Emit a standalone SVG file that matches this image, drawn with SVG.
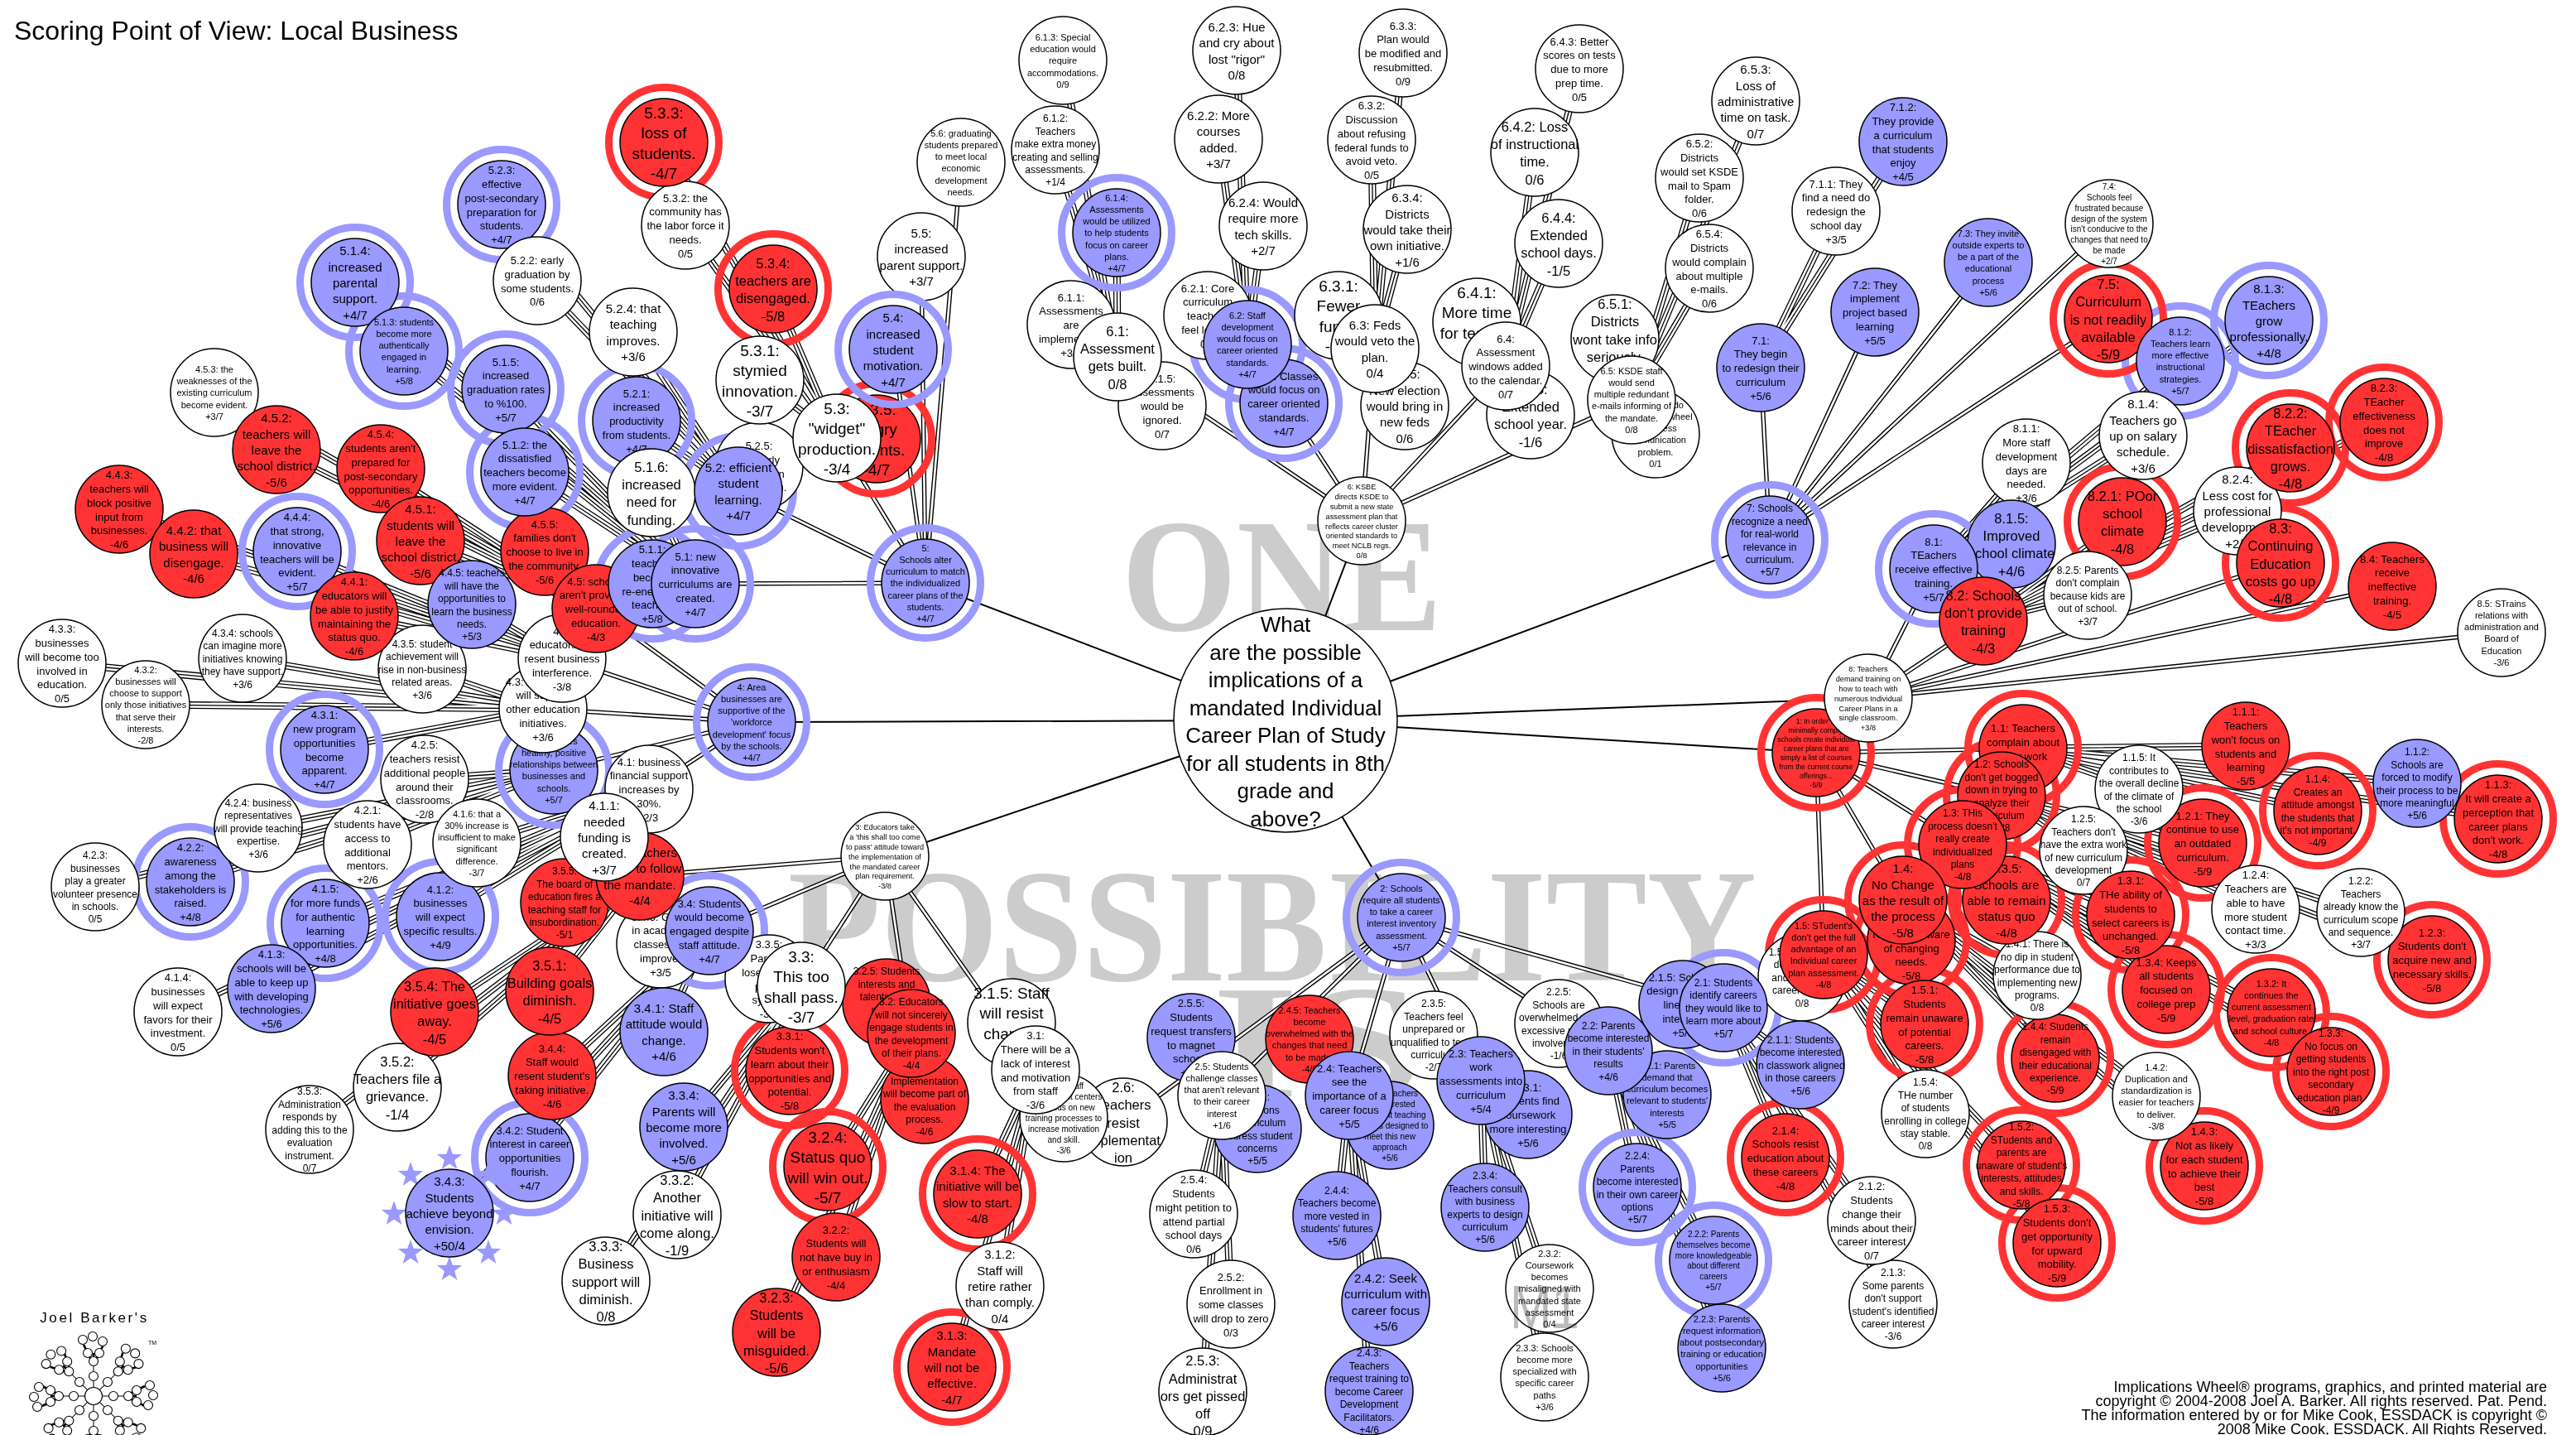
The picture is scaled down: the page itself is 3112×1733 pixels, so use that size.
<svg xmlns="http://www.w3.org/2000/svg" width="3112" height="1733" viewBox="0 0 3112 1733">
<style>
text{font-family:"Liberation Sans",Arial,sans-serif;text-anchor:middle;fill:#000}
circle{stroke:#000;stroke-width:1.5}
.w{fill:#fff}.b{fill:#99f}.r{fill:#f33}
.hb,.hr{fill:none;stroke-width:9}.hb{stroke:#99f}.hr{stroke:#f33}
.A{font-size:19px}.B{font-size:16.5px}.C{font-size:15px}.D{font-size:13px}.E{font-size:12px}.F{font-size:11px}.G{font-size:10px}.H{font-size:9.2px}.I{font-size:8.6px}
.wm{font-family:"Liberation Serif",serif;font-weight:bold;fill:#ccc;text-anchor:start;font-size:195px}
.ttl{font-size:32px;text-anchor:start}
.cr{font-size:18px;text-anchor:end}
.k1{stroke:#000;stroke-width:2}
.k2{stroke:#000;stroke-width:5.4}.w2{stroke:#fff;stroke-width:2.6}
.k3{stroke:#000;stroke-width:9}.w3{stroke:#fff;stroke-width:6.4}.m3{stroke:#000;stroke-width:1.3}
.star{fill:#99f;stroke:none}
#br circle,.lc{fill:#fff;stroke-width:1.1}#br path{fill:none;stroke:#000}
</style>
<defs>
<polygon id="star" class="star" points="0,-16 3.8,-5.2 15.2,-5 6.1,2 9.4,12.9 0,6.5 -9.4,12.9 -6.1,2 -15.2,-5 -3.8,-5.2"/>
<g id="S3">
<path d="M2444 904 2713 901M2444 904 2920 946M2444 904 3018 989M2444 904 2800 979M2444 904 2584 953"/>
<path d="M2418 961 2661 1018M2418 961 2852 1102M2418 961 2938 1159M2418 961 2725 1098M2418 961 2517 1027"/>
<path d="M2371 1020 2574 1105M2371 1020 2744 1223M2371 1020 2816 1294M2371 1020 2617 1195M2371 1020 2424 1087"/>
<path d="M2299 1087 2461 1178M2299 1087 2605 1324M2299 1087 2663 1408M2299 1087 2483 1278M2299 1087 2309 1136"/>
<path d="M2203 1153 2325 1237M2203 1153 2442 1407M2203 1153 2485 1501M2203 1153 2326 1345M2203 1153 2177 1180"/>
<path d="M2082 1217 2175 1286M2082 1217 2261 1474M2082 1217 2287 1575M2082 1217 2157 1398M2082 1217 2033 1213"/>
<path d="M1943 1269 2014 1322M1943 1269 2070 1522M1943 1269 2080 1628M1943 1269 1978 1434M1943 1269 1883 1236"/>
<path d="M1789 1305 1846 1346M1789 1305 1872 1556M1789 1305 1866 1663M1789 1305 1794 1458M1789 1305 1732 1250"/>
<path d="M1630 1323 1679 1359M1630 1323 1674 1572M1630 1323 1654 1680M1630 1323 1615 1468M1630 1323 1582 1255"/>
<path d="M1476 1323 1519 1363M1476 1323 1487 1575M1476 1323 1453 1681M1476 1323 1442 1466M1476 1323 1439 1253"/>
<path d="M1251 1292 1285 1350M1251 1292 1208 1553M1251 1292 1150 1651M1251 1292 1181 1442M1251 1292 1222 1235"/>
<path d="M1101 1248 1117 1328M1101 1248 1010 1518M1101 1248 938 1609M1101 1248 1000 1409M1101 1248 1071 1211"/>
<path d="M968 1191 954 1293M968 1191 818 1467M968 1191 732 1547M968 1191 826 1361M968 1191 929 1182"/>
<path d="M857 1124 802 1246M857 1124 640 1398M857 1124 543 1465M857 1124 667 1299M857 1124 798 1140"/>
<path d="M773 1058 664 1197M773 1058 480 1313M773 1058 374 1364M773 1058 525 1222M773 1058 682 1090"/>
<path d="M784 953 730 1011M784 953 532 1107M784 953 328 1194M784 953 215 1222M784 953 393 1115M784 953 576 1018"/>
<path d="M669 930 444 1020M669 930 230 1065M669 930 115 1071M669 930 312 1000M669 930 513 941"/>
<path d="M656 856 392 905M656 856 176 851M656 856 75 801M656 856 293 795M656 856 510 808"/>
<path d="M679 795 428 744M679 795 234 669M679 795 144 615M679 795 359 666M679 795 570 730"/>
<path d="M720 735 508 653M720 735 334 543M720 735 259 474M720 735 460 566M720 735 658 666"/>
<path d="M840 705 788 705M840 705 634 570M840 705 488 424M840 705 429 341M840 705 611 470M840 705 787 595"/>
<path d="M892 593 769 508M892 593 649 339M892 593 606 247M892 593 765 401M892 593 917 563"/>
<path d="M1011 529 918 459M1011 529 828 272M1011 529 802 172M1011 529 934 349M1011 529 1059 530"/>
<path d="M1350 431 1294 392M1350 431 1275 181M1350 431 1284 73M1350 431 1349 281M1350 431 1404 490"/>
<path d="M1507 416 1459 381M1507 416 1472 168M1507 416 1494 61M1507 416 1526 273M1507 416 1551 487"/>
<path d="M1661 421 1617 381M1661 421 1657 169M1661 421 1695 64M1661 421 1700 277M1661 421 1697 490"/>
<path d="M1819 442 1784 389M1819 442 1854 184M1819 442 1908 83M1819 442 1883 294M1819 442 1849 501"/>
<path d="M1971 483 1951 409M1971 483 2053 215M1971 483 2121 122M1971 483 2065 324M1971 483 2000 524"/>
<path d="M2127 444 2218 255M2127 444 2299 171"/>
<path d="M2336 687 2448 559M2336 687 2634 436M2336 687 2741 387M2336 687 2589 526M2336 687 2430 657"/>
<path d="M2396 750 2564 630M2396 750 2767 541M2396 750 2880 510M2396 750 2703 617M2396 750 2522 719"/>
</g>
<g id="S2">
<path d="M2194 909 2444 904M2194 909 2418 961M2194 909 2371 1020M2194 909 2299 1087M2194 909 2203 1153"/>
<path d="M1693 1108 2082 1217M1693 1108 1943 1269M1693 1108 1789 1305M1693 1108 1630 1323M1693 1108 1476 1323M1693 1108 1357 1355"/>
<path d="M1069 1034 1251 1292M1069 1034 1101 1248M1069 1034 968 1191M1069 1034 857 1124M1069 1034 773 1058"/>
<path d="M908 872 784 953M908 872 669 930M908 872 656 856M908 872 679 795M908 872 720 735"/>
<path d="M1118 704 840 705M1118 704 892 593M1118 704 1011 529M1118 704 1079 422M1118 704 1113 310M1118 704 1161 196"/>
<path d="M1645 629 1350 431M1645 629 1507 416M1645 629 1661 421M1645 629 1819 442M1645 629 1971 483"/>
<path d="M2138 652 2127 444M2138 652 2265 377M2138 652 2402 317M2138 652 2548 270M2138 652 2547 385"/>
<path d="M2257 843 2336 687M2257 843 2396 750M2257 843 2755 680M2257 843 2890 708M2257 843 3022 764"/>
</g>
</defs>
<g id="watermark">
<text class="wm" x="1355" y="761" textLength="387" lengthAdjust="spacingAndGlyphs">ONE</text>
<text class="wm" x="952" y="1184" textLength="1170" lengthAdjust="spacingAndGlyphs">POSSIBILITY</text>
<text class="wm" x="1464" y="1324" textLength="256" lengthAdjust="spacingAndGlyphs">IS</text>
</g>
<text id="title" class="ttl" x="17" y="48">Scoring Point of View: Local Business</text>
<g id="connectors">
<g id="cS"><use href="#S3" class="k3"/><use href="#S3" class="w3"/><use href="#S3" class="m3"/></g>
<g id="cM"><use href="#S2" class="k2"/><use href="#S2" class="w2"/></g>
<g id="cL"><path class="k1" d="M1553 870 2194 909M1553 870 1693 1108M1553 870 1069 1034M1553 870 908 872M1553 870 1118 704M1553 870 1645 629M1553 870 2138 652M1553 870 2257 843"/></g>
</g>
<g id="halos">
<g class="hb"><circle cx="1693" cy="1108" r="66.5" class="hb"/><circle cx="2082" cy="1217" r="66.5" class="hb"/><circle cx="1978" cy="1434" r="66.5" class="hb"/><circle cx="2070" cy="1522" r="66.5" class="hb"/><circle cx="857" cy="1124" r="66.5" class="hb"/><circle cx="640" cy="1398" r="66.5" class="hb"/><circle cx="393" cy="1115" r="66.5" class="hb"/><circle cx="532" cy="1107" r="66.5" class="hb"/><circle cx="230" cy="1065" r="66.5" class="hb"/><circle cx="392" cy="905" r="66.5" class="hb"/><circle cx="359" cy="666" r="66.5" class="hb"/><circle cx="669" cy="930" r="66.5" class="hb"/><circle cx="908" cy="872" r="66.5" class="hb"/><circle cx="429" cy="341" r="66.5" class="hb"/><circle cx="488" cy="424" r="66.5" class="hb"/><circle cx="611" cy="470" r="66.5" class="hb"/><circle cx="634" cy="570" r="66.5" class="hb"/><circle cx="606" cy="247" r="66.5" class="hb"/><circle cx="769" cy="508" r="66.5" class="hb"/><circle cx="788" cy="705" r="66.5" class="hb"/><circle cx="840" cy="705" r="66.5" class="hb"/><circle cx="892" cy="593" r="66.5" class="hb"/><circle cx="1118" cy="704" r="66.5" class="hb"/><circle cx="1349" cy="281" r="66.5" class="hb"/><circle cx="1551" cy="487" r="66.5" class="hb"/><circle cx="1507" cy="416" r="66.5" class="hb"/><circle cx="2138" cy="652" r="66.5" class="hb"/><circle cx="2741" cy="387" r="66.5" class="hb"/><circle cx="2634" cy="436" r="66.5" class="hb"/><circle cx="2336" cy="687" r="66.5" class="hb"/></g>
<g><circle cx="2800" cy="979" r="66.5" class="hr"/><circle cx="3018" cy="989" r="66.5" class="hr"/><circle cx="2661" cy="1018" r="66.5" class="hr"/><circle cx="2938" cy="1159" r="66.5" class="hr"/><circle cx="2617" cy="1195" r="66.5" class="hr"/><circle cx="2574" cy="1105" r="66.5" class="hr"/><circle cx="2744" cy="1223" r="66.5" class="hr"/><circle cx="2816" cy="1294" r="66.5" class="hr"/><circle cx="2663" cy="1408" r="66.5" class="hr"/><circle cx="2483" cy="1278" r="66.5" class="hr"/><circle cx="2309" cy="1136" r="66.5" class="hr"/><circle cx="2424" cy="1087" r="66.5" class="hr"/><circle cx="2325" cy="1237" r="66.5" class="hr"/><circle cx="2485" cy="1501" r="66.5" class="hr"/><circle cx="2442" cy="1407" r="66.5" class="hr"/><circle cx="2444" cy="904" r="66.5" class="hr"/><circle cx="2418" cy="961" r="66.5" class="hr"/><circle cx="2371" cy="1020" r="66.5" class="hr"/><circle cx="2203" cy="1153" r="66.5" class="hr"/><circle cx="2299" cy="1087" r="66.5" class="hr"/><circle cx="2194" cy="909" r="66.5" class="hr"/><circle cx="2157" cy="1398" r="66.5" class="hr"/><circle cx="1150" cy="1651" r="66.5" class="hr"/><circle cx="1181" cy="1442" r="66.5" class="hr"/><circle cx="954" cy="1293" r="66.5" class="hr"/><circle cx="1000" cy="1409" r="66.5" class="hr"/><circle cx="802" cy="172" r="66.5" class="hr"/><circle cx="934" cy="349" r="66.5" class="hr"/><circle cx="1059" cy="530" r="66.5" class="hr"/><circle cx="2547" cy="385" r="66.5" class="hr"/><circle cx="2564" cy="630" r="66.5" class="hr"/><circle cx="2767" cy="541" r="66.5" class="hr"/><circle cx="2880" cy="510" r="66.5" class="hr"/><circle cx="2755" cy="680" r="66.5" class="hr"/></g>
</g>
<g id="nodes">
<!-- branch 1 -->
<g id="n1_1_1" class="D" transform="translate(2713 901)"><circle r="53" class="r"/><text><tspan x="0" dy="-2.825em">1.1.1:</tspan><tspan x="0" dy="1.29em">Teachers</tspan><tspan x="0" dy="1.29em">won't focus on</tspan><tspan x="0" dy="1.29em">students and</tspan><tspan x="0" dy="1.29em">learning</tspan><tspan x="0" dy="1.29em">-5/5</tspan></text></g>
<g id="n1_1_4" class="E" transform="translate(2800 979)"><circle r="53" class="r"/><text><tspan x="0" dy="-2.825em">1.1.4:</tspan><tspan x="0" dy="1.29em">Creates an</tspan><tspan x="0" dy="1.29em">attitude amongst</tspan><tspan x="0" dy="1.29em">the students that</tspan><tspan x="0" dy="1.29em">it's not important.</tspan><tspan x="0" dy="1.29em">-4/9</tspan></text></g>
<g id="n1_1_3" class="D" transform="translate(3018 989)"><circle r="53" class="r"/><text><tspan x="0" dy="-2.825em">1.1.3:</tspan><tspan x="0" dy="1.29em">It will create a</tspan><tspan x="0" dy="1.29em">perception that</tspan><tspan x="0" dy="1.29em">career plans</tspan><tspan x="0" dy="1.29em">don't work.</tspan><tspan x="0" dy="1.29em">-4/8</tspan></text></g>
<g id="n1_1_2" class="E" transform="translate(2920 946)"><circle r="53" class="b"/><text><tspan x="0" dy="-2.825em">1.1.2:</tspan><tspan x="0" dy="1.29em">Schools are</tspan><tspan x="0" dy="1.29em">forced to modify</tspan><tspan x="0" dy="1.29em">their process to be</tspan><tspan x="0" dy="1.29em">more meaningful</tspan><tspan x="0" dy="1.29em">+5/6</tspan></text></g>
<g id="n1_2_1" class="D" transform="translate(2661 1018)"><circle r="53" class="r"/><text><tspan x="0" dy="-2.18em">1.2.1: They</tspan><tspan x="0" dy="1.29em">continue to use</tspan><tspan x="0" dy="1.29em">an outdated</tspan><tspan x="0" dy="1.29em">curriculum.</tspan><tspan x="0" dy="1.29em">-5/9</tspan></text></g>
<g id="n1_1_5" class="E" transform="translate(2584 953)"><circle r="53" class="w"/><text><tspan x="0" dy="-2.825em">1.1.5: It</tspan><tspan x="0" dy="1.29em">contributes to</tspan><tspan x="0" dy="1.29em">the overall decline</tspan><tspan x="0" dy="1.29em">of the climate of</tspan><tspan x="0" dy="1.29em">the school</tspan><tspan x="0" dy="1.29em">-3/6</tspan></text></g>
<g id="n1_2_3" class="D" transform="translate(2938 1159)"><circle r="53" class="r"/><text><tspan x="0" dy="-2.18em">1.2.3:</tspan><tspan x="0" dy="1.29em">Students don't</tspan><tspan x="0" dy="1.29em">acquire new and</tspan><tspan x="0" dy="1.29em">necessary skills.</tspan><tspan x="0" dy="1.29em">-5/8</tspan></text></g>
<g id="n1_2_2" class="E" transform="translate(2852 1102)"><circle r="53" class="w"/><text><tspan x="0" dy="-2.825em">1.2.2:</tspan><tspan x="0" dy="1.29em">Teachers</tspan><tspan x="0" dy="1.29em">already know the</tspan><tspan x="0" dy="1.29em">curriculum scope</tspan><tspan x="0" dy="1.29em">and sequence.</tspan><tspan x="0" dy="1.29em">+3/7</tspan></text></g>
<g id="n1_2_5" class="E" transform="translate(2517 1027)"><circle r="53" class="w"/><text><tspan x="0" dy="-2.825em">1.2.5:</tspan><tspan x="0" dy="1.29em">Teachers don't</tspan><tspan x="0" dy="1.29em">have the extra work</tspan><tspan x="0" dy="1.29em">of new curriculum</tspan><tspan x="0" dy="1.29em">development</tspan><tspan x="0" dy="1.29em">0/7</tspan></text></g>
<g id="n1_3_4" class="D" transform="translate(2617 1195)"><circle r="53" class="r"/><text><tspan x="0" dy="-2.18em">1.3.4: Keeps</tspan><tspan x="0" dy="1.29em">all students</tspan><tspan x="0" dy="1.29em">focused on</tspan><tspan x="0" dy="1.29em">college prep</tspan><tspan x="0" dy="1.29em">-5/9</tspan></text></g>
<g id="n1_3_1" class="D" transform="translate(2574 1105)"><circle r="53" class="r"/><text><tspan x="0" dy="-2.825em">1.3.1:</tspan><tspan x="0" dy="1.29em">THe ability of</tspan><tspan x="0" dy="1.29em">students to</tspan><tspan x="0" dy="1.29em">select careers is</tspan><tspan x="0" dy="1.29em">unchanged.</tspan><tspan x="0" dy="1.29em">-5/8</tspan></text></g>
<g id="n1_2_4" class="D" transform="translate(2725 1098)"><circle r="53" class="w"/><text><tspan x="0" dy="-2.825em">1.2.4:</tspan><tspan x="0" dy="1.29em">Teachers are</tspan><tspan x="0" dy="1.29em">able to have</tspan><tspan x="0" dy="1.29em">more student</tspan><tspan x="0" dy="1.29em">contact time.</tspan><tspan x="0" dy="1.29em">+3/3</tspan></text></g>
<g id="n1_3_2" class="F" transform="translate(2744 1223)"><circle r="53" class="r"/><text><tspan x="0" dy="-2.825em">1.3.2: It</tspan><tspan x="0" dy="1.29em">continues the</tspan><tspan x="0" dy="1.29em">current assessment</tspan><tspan x="0" dy="1.29em">level, graduation rate</tspan><tspan x="0" dy="1.29em">and school culture.</tspan><tspan x="0" dy="1.29em">-4/8</tspan></text></g>
<g id="n1_3_3" class="E" transform="translate(2816 1294)"><circle r="53" class="r"/><text><tspan x="0" dy="-3.47em">1.3.3:</tspan><tspan x="0" dy="1.29em">No focus on</tspan><tspan x="0" dy="1.29em">getting students</tspan><tspan x="0" dy="1.29em">into the right  post</tspan><tspan x="0" dy="1.29em">secondary</tspan><tspan x="0" dy="1.29em">education plan.</tspan><tspan x="0" dy="1.29em">-4/9</tspan></text></g>
<g id="n1_4_3" class="D" transform="translate(2663 1408)"><circle r="53" class="r"/><text><tspan x="0" dy="-2.825em">1.4.3:</tspan><tspan x="0" dy="1.29em">Not as likely</tspan><tspan x="0" dy="1.29em">for each student</tspan><tspan x="0" dy="1.29em">to achieve their</tspan><tspan x="0" dy="1.29em">best</tspan><tspan x="0" dy="1.29em">-5/8</tspan></text></g>
<g id="n1_4_2" class="F" transform="translate(2605 1324)"><circle r="53" class="w"/><text><tspan x="0" dy="-2.825em">1.4.2:</tspan><tspan x="0" dy="1.29em">Duplication and</tspan><tspan x="0" dy="1.29em">standardization is</tspan><tspan x="0" dy="1.29em">easier for teachers</tspan><tspan x="0" dy="1.29em">to deliver.</tspan><tspan x="0" dy="1.29em">-3/8</tspan></text></g>
<g id="n1_4_4" class="E" transform="translate(2483 1278)"><circle r="53" class="r"/><text><tspan x="0" dy="-2.825em">1.4.4: Students</tspan><tspan x="0" dy="1.29em">remain</tspan><tspan x="0" dy="1.29em">disengaged with</tspan><tspan x="0" dy="1.29em">their educational</tspan><tspan x="0" dy="1.29em">experience.</tspan><tspan x="0" dy="1.29em">-5/9</tspan></text></g>
<g id="n1_4_1" class="E" transform="translate(2461 1178)"><circle r="53" class="w"/><text><tspan x="0" dy="-2.825em">1.4.1: There is</tspan><tspan x="0" dy="1.29em">no dip in student</tspan><tspan x="0" dy="1.29em">performance due to</tspan><tspan x="0" dy="1.29em">implementing new</tspan><tspan x="0" dy="1.29em">programs.</tspan><tspan x="0" dy="1.29em">0/8</tspan></text></g>
<g id="n1_4_5" class="D" transform="translate(2309 1136)"><circle r="53" class="r"/><text><tspan x="0" dy="-2.825em">1.4.5:</tspan><tspan x="0" dy="1.29em">Teachers</tspan><tspan x="0" dy="1.29em">remain unaware</tspan><tspan x="0" dy="1.29em">of changing</tspan><tspan x="0" dy="1.29em">needs.</tspan><tspan x="0" dy="1.29em">-5/8</tspan></text></g>
<g id="n1_3_5" class="C" transform="translate(2424 1087)"><circle r="53" class="r"/><text><tspan x="0" dy="-2.18em">1.3.5:</tspan><tspan x="0" dy="1.29em">Schools are</tspan><tspan x="0" dy="1.29em">able to remain</tspan><tspan x="0" dy="1.29em">status quo</tspan><tspan x="0" dy="1.29em">-4/8</tspan></text></g>
<g id="n1_5_5" class="E" transform="translate(2177 1180)"><circle r="53" class="w"/><text><tspan x="0" dy="-2.18em">1.5.5: Students</tspan><tspan x="0" dy="1.29em">don't explore</tspan><tspan x="0" dy="1.29em">and plan for a</tspan><tspan x="0" dy="1.29em">career choice</tspan><tspan x="0" dy="1.29em">0/8</tspan></text></g>
<g id="n1_5_1" class="D" transform="translate(2325 1237)"><circle r="53" class="r"/><text><tspan x="0" dy="-2.825em">1.5.1:</tspan><tspan x="0" dy="1.29em">Students</tspan><tspan x="0" dy="1.29em">remain unaware</tspan><tspan x="0" dy="1.29em">of potential</tspan><tspan x="0" dy="1.29em">careers.</tspan><tspan x="0" dy="1.29em">-5/8</tspan></text></g>
<g id="n1_5_4" class="E" transform="translate(2326 1345)"><circle r="53" class="w"/><text><tspan x="0" dy="-2.825em">1.5.4:</tspan><tspan x="0" dy="1.29em">THe number</tspan><tspan x="0" dy="1.29em">of students</tspan><tspan x="0" dy="1.29em">enrolling in college</tspan><tspan x="0" dy="1.29em">stay stable.</tspan><tspan x="0" dy="1.29em">0/8</tspan></text></g>
<g id="n1_5_2" class="E" transform="translate(2442 1407)"><circle r="53" class="r"/><text><tspan x="0" dy="-3.47em">1.5.2:</tspan><tspan x="0" dy="1.29em">STudents and</tspan><tspan x="0" dy="1.29em">parents are</tspan><tspan x="0" dy="1.29em">unaware of student's</tspan><tspan x="0" dy="1.29em">interests, attitudes</tspan><tspan x="0" dy="1.29em">and skills.</tspan><tspan x="0" dy="1.29em">-5/8</tspan></text></g>
<g id="n1_5_3" class="D" transform="translate(2485 1501)"><circle r="53" class="r"/><text><tspan x="0" dy="-2.825em">1.5.3:</tspan><tspan x="0" dy="1.29em">Students don't</tspan><tspan x="0" dy="1.29em">get opportunity</tspan><tspan x="0" dy="1.29em">for upward</tspan><tspan x="0" dy="1.29em">mobility.</tspan><tspan x="0" dy="1.29em">-5/9</tspan></text></g>
<g id="n1_1" class="D" transform="translate(2444 904)"><circle r="53" class="r"/><text><tspan x="0" dy="-1.535em">1.1: Teachers</tspan><tspan x="0" dy="1.29em">complain about</tspan><tspan x="0" dy="1.29em">busy work</tspan><tspan x="0" dy="1.29em">-5/8</tspan></text></g>
<g id="n1_2" class="E" transform="translate(2418 961)"><circle r="53" class="r"/><text><tspan x="0" dy="-2.825em">1.2: Schools</tspan><tspan x="0" dy="1.29em">don't get bogged</tspan><tspan x="0" dy="1.29em">down in trying to</tspan><tspan x="0" dy="1.29em">analyze their</tspan><tspan x="0" dy="1.29em">curriculum</tspan><tspan x="0" dy="1.29em">-4/8</tspan></text></g>
<g id="n1_3" class="E" transform="translate(2371 1020)"><circle r="53" class="r"/><text><tspan x="0" dy="-2.825em">1.3: THis</tspan><tspan x="0" dy="1.29em">process doesn't</tspan><tspan x="0" dy="1.29em">really create</tspan><tspan x="0" dy="1.29em">individualized</tspan><tspan x="0" dy="1.29em">plans</tspan><tspan x="0" dy="1.29em">-4/8</tspan></text></g>
<g id="n1_5" class="F" transform="translate(2203 1153)"><circle r="53" class="r"/><text><tspan x="0" dy="-2.825em">1.5: STudent's</tspan><tspan x="0" dy="1.29em">don't get the full</tspan><tspan x="0" dy="1.29em">advantage of an</tspan><tspan x="0" dy="1.29em">Individual career</tspan><tspan x="0" dy="1.29em">plan assessment.</tspan><tspan x="0" dy="1.29em">-4/8</tspan></text></g>
<g id="n1_4" class="C" transform="translate(2299 1087)"><circle r="53" class="r"/><text><tspan x="0" dy="-2.18em">1.4:</tspan><tspan x="0" dy="1.29em">No Change</tspan><tspan x="0" dy="1.29em">as the result of</tspan><tspan x="0" dy="1.29em">the process</tspan><tspan x="0" dy="1.29em">-5/8</tspan></text></g>
<g id="n1" class="I" transform="translate(2194 909)"><circle r="53" class="r"/><text><tspan x="0" dy="-4.115em">1: In order to</tspan><tspan x="0" dy="1.29em">minimally comply,</tspan><tspan x="0" dy="1.29em">schools create individual</tspan><tspan x="0" dy="1.29em">career plans that are</tspan><tspan x="0" dy="1.29em">simply a list of courses</tspan><tspan x="0" dy="1.29em">from the current course</tspan><tspan x="0" dy="1.29em">offerings...</tspan><tspan x="0" dy="1.29em">-5/9</tspan></text></g>
<!-- branch 2 -->
<g id="n2_1_5" class="D" transform="translate(2033 1213)"><circle r="53" class="b"/><text><tspan x="0" dy="-2.18em">2.1.5: Schools</tspan><tspan x="0" dy="1.29em">design courses</tspan><tspan x="0" dy="1.29em">line with</tspan><tspan x="0" dy="1.29em">interests</tspan><tspan x="0" dy="1.29em">+5/6</tspan></text></g>
<g id="n2_1_3" class="E" transform="translate(2287 1575)"><circle r="53" class="w"/><text><tspan x="0" dy="-2.825em">2.1.3:</tspan><tspan x="0" dy="1.29em">Some parents</tspan><tspan x="0" dy="1.29em">don't support</tspan><tspan x="0" dy="1.29em">student's identified</tspan><tspan x="0" dy="1.29em">career interest</tspan><tspan x="0" dy="1.29em">-3/6</tspan></text></g>
<g id="n2_1_2" class="D" transform="translate(2261 1474)"><circle r="53" class="w"/><text><tspan x="0" dy="-2.825em">2.1.2:</tspan><tspan x="0" dy="1.29em">Students</tspan><tspan x="0" dy="1.29em">change their</tspan><tspan x="0" dy="1.29em">minds about their</tspan><tspan x="0" dy="1.29em">career interest</tspan><tspan x="0" dy="1.29em">0/7</tspan></text></g>
<g id="n2_1_4" class="D" transform="translate(2157 1398)"><circle r="53" class="r"/><text><tspan x="0" dy="-2.18em">2.1.4:</tspan><tspan x="0" dy="1.29em">Schools resist</tspan><tspan x="0" dy="1.29em">education about</tspan><tspan x="0" dy="1.29em">these careers</tspan><tspan x="0" dy="1.29em">-4/8</tspan></text></g>
<g id="n2_1_1" class="E" transform="translate(2175 1286)"><circle r="53" class="b"/><text><tspan x="0" dy="-2.18em">2.1.1: Students</tspan><tspan x="0" dy="1.29em">become interested</tspan><tspan x="0" dy="1.29em">in classwork aligned</tspan><tspan x="0" dy="1.29em">in those careers</tspan><tspan x="0" dy="1.29em">+5/6</tspan></text></g>
<g id="n2_2_5" class="E" transform="translate(1883 1236)"><circle r="53" class="w"/><text><tspan x="0" dy="-2.825em">2.2.5:</tspan><tspan x="0" dy="1.29em">Schools are</tspan><tspan x="0" dy="1.29em">overwhelmed with</tspan><tspan x="0" dy="1.29em">excessive parent</tspan><tspan x="0" dy="1.29em">involvement</tspan><tspan x="0" dy="1.29em">-1/6</tspan></text></g>
<g id="n2_2_1" class="F" transform="translate(2014 1322)"><circle r="53" class="b"/><text><tspan x="0" dy="-2.825em">2.2.1: Parents</tspan><tspan x="0" dy="1.29em">demand that</tspan><tspan x="0" dy="1.29em">curriculum becomes</tspan><tspan x="0" dy="1.29em">relevant to students'</tspan><tspan x="0" dy="1.29em">interests</tspan><tspan x="0" dy="1.29em">+5/5</tspan></text></g>
<g id="n2_2_3" class="F" transform="translate(2080 1628)"><circle r="53" class="b"/><text><tspan x="0" dy="-2.825em">2.2.3: Parents</tspan><tspan x="0" dy="1.29em">request information</tspan><tspan x="0" dy="1.29em">about postsecondary</tspan><tspan x="0" dy="1.29em">training or education</tspan><tspan x="0" dy="1.29em">opportunities</tspan><tspan x="0" dy="1.29em">+5/6</tspan></text></g>
<g id="n2_2_4" class="E" transform="translate(1978 1434)"><circle r="53" class="b"/><text><tspan x="0" dy="-2.825em">2.2.4:</tspan><tspan x="0" dy="1.29em">Parents</tspan><tspan x="0" dy="1.29em">become interested</tspan><tspan x="0" dy="1.29em">in their own career</tspan><tspan x="0" dy="1.29em">options</tspan><tspan x="0" dy="1.29em">+5/7</tspan></text></g>
<g id="n2_2_2" class="G" transform="translate(2070 1522)"><circle r="53" class="b"/><text><tspan x="0" dy="-2.825em">2.2.2: Parents</tspan><tspan x="0" dy="1.29em">themselves become</tspan><tspan x="0" dy="1.29em">more knowledgeable</tspan><tspan x="0" dy="1.29em">about different</tspan><tspan x="0" dy="1.29em">careers</tspan><tspan x="0" dy="1.29em">+5/7</tspan></text></g>
<g id="n2_3_5" class="E" transform="translate(1732 1250)"><circle r="53" class="w"/><text><tspan x="0" dy="-2.825em">2.3.5:</tspan><tspan x="0" dy="1.29em">Teachers feel</tspan><tspan x="0" dy="1.29em">unprepared or</tspan><tspan x="0" dy="1.29em">unqualified to teach</tspan><tspan x="0" dy="1.29em">curriculum</tspan><tspan x="0" dy="1.29em">-2/7</tspan></text></g>
<g id="n2_3_1" class="D" transform="translate(1846 1346)"><circle r="53" class="b"/><text><tspan x="0" dy="-2.18em">2.3.1:</tspan><tspan x="0" dy="1.29em">Students find</tspan><tspan x="0" dy="1.29em">coursework</tspan><tspan x="0" dy="1.29em">more interesting</tspan><tspan x="0" dy="1.29em">+5/6</tspan></text></g>
<g id="n2_3_3" class="F" transform="translate(1866 1663)"><circle r="53" class="w"/><text><tspan x="0" dy="-2.825em">2.3.3: Schools</tspan><tspan x="0" dy="1.29em">become more</tspan><tspan x="0" dy="1.29em">specialized with</tspan><tspan x="0" dy="1.29em">specific career</tspan><tspan x="0" dy="1.29em">paths</tspan><tspan x="0" dy="1.29em">+3/6</tspan></text></g>
<g id="n2_3_2" class="F" transform="translate(1872 1556)"><circle r="53" class="w"/><text><tspan x="0" dy="-3.47em">2.3.2:</tspan><tspan x="0" dy="1.29em">Coursework</tspan><tspan x="0" dy="1.29em">becomes</tspan><tspan x="0" dy="1.29em">misaligned with</tspan><tspan x="0" dy="1.29em">mandated state</tspan><tspan x="0" dy="1.29em">assessment</tspan><tspan x="0" dy="1.29em">0/4</tspan></text></g>
<g id="n2_3_4" class="E" transform="translate(1794 1458)"><circle r="53" class="b"/><text><tspan x="0" dy="-2.825em">2.3.4:</tspan><tspan x="0" dy="1.29em">Teachers consult</tspan><tspan x="0" dy="1.29em">with business</tspan><tspan x="0" dy="1.29em">experts to design</tspan><tspan x="0" dy="1.29em">curriculum</tspan><tspan x="0" dy="1.29em">+5/6</tspan></text></g>
<g id="n2_4_5" class="F" transform="translate(1582 1255)"><circle r="53" class="r"/><text><tspan x="0" dy="-2.825em">2.4.5: Teachers</tspan><tspan x="0" dy="1.29em">become</tspan><tspan x="0" dy="1.29em">overwhelmed with the</tspan><tspan x="0" dy="1.29em">changes that need</tspan><tspan x="0" dy="1.29em">to be made.</tspan><tspan x="0" dy="1.29em">-4/6</tspan></text></g>
<g id="n2_4_1" class="G" transform="translate(1679 1359)"><circle r="53" class="b"/><text><tspan x="0" dy="-3.47em">2.4.1: Teachers</tspan><tspan x="0" dy="1.29em">are interested</tspan><tspan x="0" dy="1.29em">in different teaching</tspan><tspan x="0" dy="1.29em">methods designed to</tspan><tspan x="0" dy="1.29em">meet this new</tspan><tspan x="0" dy="1.29em">approach</tspan><tspan x="0" dy="1.29em">+5/6</tspan></text></g>
<g id="n2_4_3" class="E" transform="translate(1654 1680)"><circle r="53" class="b"/><text><tspan x="0" dy="-3.47em">2.4.3:</tspan><tspan x="0" dy="1.29em">Teachers</tspan><tspan x="0" dy="1.29em">request training to</tspan><tspan x="0" dy="1.29em">become Career</tspan><tspan x="0" dy="1.29em">Development</tspan><tspan x="0" dy="1.29em">Facilitators.</tspan><tspan x="0" dy="1.29em">+4/6</tspan></text></g>
<g id="n2_4_2" class="C" transform="translate(1674 1572)"><circle r="53" class="b"/><text><tspan x="0" dy="-1.535em">2.4.2: Seek</tspan><tspan x="0" dy="1.29em">curriculum with</tspan><tspan x="0" dy="1.29em">career focus</tspan><tspan x="0" dy="1.29em">+5/6</tspan></text></g>
<g id="n2_4_4" class="E" transform="translate(1615 1468)"><circle r="53" class="b"/><text><tspan x="0" dy="-2.18em">2.4.4:</tspan><tspan x="0" dy="1.29em">Teachers become</tspan><tspan x="0" dy="1.29em">more vested in</tspan><tspan x="0" dy="1.29em">students' futures</tspan><tspan x="0" dy="1.29em">+5/6</tspan></text></g>
<g id="n2_5_5" class="D" transform="translate(1439 1253)"><circle r="53" class="b"/><text><tspan x="0" dy="-2.825em">2.5.5:</tspan><tspan x="0" dy="1.29em">Students</tspan><tspan x="0" dy="1.29em">request transfers</tspan><tspan x="0" dy="1.29em">to magnet</tspan><tspan x="0" dy="1.29em">schools</tspan><tspan x="0" dy="1.29em">+5/6</tspan></text></g>
<g id="n2_5_1" class="E" transform="translate(1519 1363)"><circle r="53" class="b"/><text><tspan x="0" dy="-2.825em">2.5.1:</tspan><tspan x="0" dy="1.29em">Reactions</tspan><tspan x="0" dy="1.29em">to curriculum</tspan><tspan x="0" dy="1.29em">address student</tspan><tspan x="0" dy="1.29em">concerns</tspan><tspan x="0" dy="1.29em">+5/5</tspan></text></g>
<g id="n2_5_3" class="B" transform="translate(1453 1681)"><circle r="53" class="w"/><text><tspan x="0" dy="-1.92em">2.5.3:</tspan><tspan x="0" dy="1.29em">Administrat</tspan><tspan x="0" dy="1.29em">ors get pissed</tspan><tspan x="0" dy="1.29em">off</tspan><tspan x="0" dy="1.29em">0/9</tspan></text></g>
<g id="n2_5_2" class="D" transform="translate(1487 1575)"><circle r="53" class="w"/><text><tspan x="0" dy="-2.18em">2.5.2:</tspan><tspan x="0" dy="1.29em">Enrollment in</tspan><tspan x="0" dy="1.29em">some classes</tspan><tspan x="0" dy="1.29em">will drop to zero</tspan><tspan x="0" dy="1.29em">0/3</tspan></text></g>
<g id="n2_5_4" class="D" transform="translate(1442 1466)"><circle r="53" class="w"/><text><tspan x="0" dy="-2.825em">2.5.4:</tspan><tspan x="0" dy="1.29em">Students</tspan><tspan x="0" dy="1.29em">might petition to</tspan><tspan x="0" dy="1.29em">attend partial</tspan><tspan x="0" dy="1.29em">school days</tspan><tspan x="0" dy="1.29em">0/6</tspan></text></g>
<g id="n2_6" class="B" transform="translate(1357 1355)"><circle r="53" class="w"/><text><tspan x="0" dy="-2.18em">2.6:</tspan><tspan x="0" dy="1.29em">Teachers</tspan><tspan x="0" dy="1.29em">resist</tspan><tspan x="0" dy="1.29em">implementat</tspan><tspan x="0" dy="1.29em">ion</tspan></text></g>
<g id="n2_1" class="E" transform="translate(2082 1217)"><circle r="53" class="b"/><text><tspan x="0" dy="-2.18em">2.1: Students</tspan><tspan x="0" dy="1.29em">identify careers</tspan><tspan x="0" dy="1.29em">they would like to</tspan><tspan x="0" dy="1.29em">learn more about</tspan><tspan x="0" dy="1.29em">+5/7</tspan></text></g>
<g id="n2_2" class="E" transform="translate(1943 1269)"><circle r="53" class="b"/><text><tspan x="0" dy="-2.18em">2.2: Parents</tspan><tspan x="0" dy="1.29em">become interested</tspan><tspan x="0" dy="1.29em">in their students'</tspan><tspan x="0" dy="1.29em">results</tspan><tspan x="0" dy="1.29em">+4/6</tspan></text></g>
<g id="n2_3" class="D" transform="translate(1789 1305)"><circle r="53" class="b"/><text><tspan x="0" dy="-2.18em">2.3: Teachers</tspan><tspan x="0" dy="1.29em">work</tspan><tspan x="0" dy="1.29em">assessments into</tspan><tspan x="0" dy="1.29em">curriculum</tspan><tspan x="0" dy="1.29em">+5/4</tspan></text></g>
<g id="n2_4" class="D" transform="translate(1630 1323)"><circle r="53" class="b"/><text><tspan x="0" dy="-2.18em">2.4: Teachers</tspan><tspan x="0" dy="1.29em">see the</tspan><tspan x="0" dy="1.29em">importance of a</tspan><tspan x="0" dy="1.29em">career focus</tspan><tspan x="0" dy="1.29em">+5/5</tspan></text></g>
<g id="n2_5" class="F" transform="translate(1476 1323)"><circle r="53" class="w"/><text><tspan x="0" dy="-2.825em">2.5: Students</tspan><tspan x="0" dy="1.29em">challenge classes</tspan><tspan x="0" dy="1.29em">that aren't relevant</tspan><tspan x="0" dy="1.29em">to their career</tspan><tspan x="0" dy="1.29em">interest</tspan><tspan x="0" dy="1.29em">+1/6</tspan></text></g>
<g id="n2" class="F" transform="translate(1693 1108)"><circle r="53" class="b"/><text><tspan x="0" dy="-2.825em">2: Schools</tspan><tspan x="0" dy="1.29em">require all students</tspan><tspan x="0" dy="1.29em">to take a career</tspan><tspan x="0" dy="1.29em">interest inventory</tspan><tspan x="0" dy="1.29em">assessment.</tspan><tspan x="0" dy="1.29em">+5/7</tspan></text></g>
<!-- branch 3 -->
<g id="n3_1_5" class="A" transform="translate(1222 1235)"><circle r="53" class="w"/><text><tspan x="0" dy="-1.535em">3.1.5: Staff</tspan><tspan x="0" dy="1.29em">will resist</tspan><tspan x="0" dy="1.29em">change.</tspan><tspan x="0" dy="1.29em">-3/6</tspan></text></g>
<g id="n3_1_1" class="G" transform="translate(1285 1350)"><circle r="53" class="w"/><text><tspan x="0" dy="-3.47em">3.1.1: Staff</tspan><tspan x="0" dy="1.29em">development centers</tspan><tspan x="0" dy="1.29em">will focus on new</tspan><tspan x="0" dy="1.29em">training processes to</tspan><tspan x="0" dy="1.29em">increase motivation</tspan><tspan x="0" dy="1.29em">and skill.</tspan><tspan x="0" dy="1.29em">-3/6</tspan></text></g>
<g id="n3_1_3" class="C" transform="translate(1150 1651)"><circle r="53" class="r"/><text><tspan x="0" dy="-2.18em">3.1.3:</tspan><tspan x="0" dy="1.29em">Mandate</tspan><tspan x="0" dy="1.29em">will not be</tspan><tspan x="0" dy="1.29em">effective.</tspan><tspan x="0" dy="1.29em">-4/7</tspan></text></g>
<g id="n3_1_4" class="C" transform="translate(1181 1442)"><circle r="53" class="r"/><text><tspan x="0" dy="-1.535em">3.1.4: The</tspan><tspan x="0" dy="1.29em">initiative will be</tspan><tspan x="0" dy="1.29em">slow to start.</tspan><tspan x="0" dy="1.29em">-4/8</tspan></text></g>
<g id="n3_1_2" class="C" transform="translate(1208 1553)"><circle r="53" class="w"/><text><tspan x="0" dy="-2.18em">3.1.2:</tspan><tspan x="0" dy="1.29em">Staff will</tspan><tspan x="0" dy="1.29em">retire rather</tspan><tspan x="0" dy="1.29em">than comply.</tspan><tspan x="0" dy="1.29em">0/4</tspan></text></g>
<g id="n3_2_5" class="E" transform="translate(1071 1211)"><circle r="53" class="r"/><text><tspan x="0" dy="-2.825em">3.2.5: Students</tspan><tspan x="0" dy="1.29em">interests and</tspan><tspan x="0" dy="1.29em">talents don't</tspan><tspan x="0" dy="1.29em">matter.</tspan><tspan x="0" dy="1.29em">-4/6</tspan></text></g>
<g id="n3_2_1" class="E" transform="translate(1117 1328)"><circle r="53" class="r"/><text><tspan x="0" dy="-2.825em">3.2.1:</tspan><tspan x="0" dy="1.29em">Implementation</tspan><tspan x="0" dy="1.29em">will become part of</tspan><tspan x="0" dy="1.29em">the evaluation</tspan><tspan x="0" dy="1.29em">process.</tspan><tspan x="0" dy="1.29em">-4/6</tspan></text></g>
<g id="n3_2_3" class="B" transform="translate(938 1609)"><circle r="53" class="r"/><text><tspan x="0" dy="-2.18em">3.2.3:</tspan><tspan x="0" dy="1.29em">Students</tspan><tspan x="0" dy="1.29em">will be</tspan><tspan x="0" dy="1.29em">misguided.</tspan><tspan x="0" dy="1.29em">-5/6</tspan></text></g>
<g id="n3_3_1" class="D" transform="translate(954 1293)"><circle r="53" class="r"/><text><tspan x="0" dy="-2.825em">3.3.1:</tspan><tspan x="0" dy="1.29em">Students won't</tspan><tspan x="0" dy="1.29em">learn about their</tspan><tspan x="0" dy="1.29em">opportunities and</tspan><tspan x="0" dy="1.29em">potential.</tspan><tspan x="0" dy="1.29em">-5/8</tspan></text></g>
<g id="n3_2_4" class="A" transform="translate(1000 1409)"><circle r="53" class="r"/><text><tspan x="0" dy="-1.535em">3.2.4:</tspan><tspan x="0" dy="1.29em">Status quo</tspan><tspan x="0" dy="1.29em">will win out.</tspan><tspan x="0" dy="1.29em">-5/7</tspan></text></g>
<g id="n3_2_2" class="D" transform="translate(1010 1518)"><circle r="53" class="r"/><text><tspan x="0" dy="-2.18em">3.2.2:</tspan><tspan x="0" dy="1.29em">Students will</tspan><tspan x="0" dy="1.29em">not have buy in</tspan><tspan x="0" dy="1.29em">or enthusiasm</tspan><tspan x="0" dy="1.29em">-4/4</tspan></text></g>
<g id="n3_3_5" class="D" transform="translate(929 1182)"><circle r="53" class="w"/><text><tspan x="0" dy="-2.825em">3.3.5:</tspan><tspan x="0" dy="1.29em">Parents</tspan><tspan x="0" dy="1.29em">lose faith in</tspan><tspan x="0" dy="1.29em">public</tspan><tspan x="0" dy="1.29em">system</tspan><tspan x="0" dy="1.29em">-3/6</tspan></text></g>
<g id="n3_3_3" class="B" transform="translate(732 1547)"><circle r="53" class="w"/><text><tspan x="0" dy="-2.18em">3.3.3:</tspan><tspan x="0" dy="1.29em">Business</tspan><tspan x="0" dy="1.29em">support will</tspan><tspan x="0" dy="1.29em">diminish.</tspan><tspan x="0" dy="1.29em">0/8</tspan></text></g>
<g id="n3_3_2" class="B" transform="translate(818 1467)"><circle r="53" class="w"/><text><tspan x="0" dy="-2.18em">3.3.2:</tspan><tspan x="0" dy="1.29em">Another</tspan><tspan x="0" dy="1.29em">initiative will</tspan><tspan x="0" dy="1.29em">come along.</tspan><tspan x="0" dy="1.29em">-1/9</tspan></text></g>
<g id="n3_3_4" class="C" transform="translate(826 1361)"><circle r="53" class="b"/><text><tspan x="0" dy="-2.18em">3.3.4:</tspan><tspan x="0" dy="1.29em">Parents will</tspan><tspan x="0" dy="1.29em">become more</tspan><tspan x="0" dy="1.29em">involved.</tspan><tspan x="0" dy="1.29em">+5/6</tspan></text></g>
<g id="n3_4_5" class="D" transform="translate(798 1140)"><circle r="53" class="w"/><text><tspan x="0" dy="-2.18em">3.4.5: Gains</tspan><tspan x="0" dy="1.29em">in academic</tspan><tspan x="0" dy="1.29em">classes will</tspan><tspan x="0" dy="1.29em">improve.</tspan><tspan x="0" dy="1.29em">+3/5</tspan></text></g>
<g id="n3_4_1" class="C" transform="translate(802 1246)"><circle r="53" class="b"/><text><tspan x="0" dy="-1.535em">3.4.1: Staff</tspan><tspan x="0" dy="1.29em">attitude would</tspan><tspan x="0" dy="1.29em">change.</tspan><tspan x="0" dy="1.29em">+4/6</tspan></text></g>
<g id="n3_4_2" class="D" transform="translate(640 1398)"><circle r="53" class="b"/><text><tspan x="0" dy="-2.18em">3.4.2: Student</tspan><tspan x="0" dy="1.29em">interest in career</tspan><tspan x="0" dy="1.29em">opportunities</tspan><tspan x="0" dy="1.29em">flourish.</tspan><tspan x="0" dy="1.29em">+4/7</tspan></text></g>
<g id="n3_4_4" class="D" transform="translate(667 1299)"><circle r="53" class="r"/><text><tspan x="0" dy="-2.18em">3.4.4:</tspan><tspan x="0" dy="1.29em">Staff would</tspan><tspan x="0" dy="1.29em">resent student's</tspan><tspan x="0" dy="1.29em">taking initiative.</tspan><tspan x="0" dy="1.29em">-4/6</tspan></text></g>
<g id="n3_4_3" class="C" transform="translate(543 1465)"><use href="#star" x="0" y="-66"/><use href="#star" x="-47" y="-46"/><use href="#star" x="-67" y="1"/><use href="#star" x="-47" y="48"/><use href="#star" x="0" y="68"/><use href="#star" x="47" y="48"/><use href="#star" x="66" y="1"/><use href="#star" x="47" y="-46"/><circle r="53" class="b"/><text><tspan x="0" dy="-2.18em">3.4.3:</tspan><tspan x="0" dy="1.29em">Students</tspan><tspan x="0" dy="1.29em">achieve beyond</tspan><tspan x="0" dy="1.29em">envision.</tspan><tspan x="0" dy="1.29em">+50/4</tspan></text></g>
<g id="n3_5_5" class="E" transform="translate(682 1090)"><circle r="53" class="r"/><text><tspan x="0" dy="-2.825em">3.5.5:</tspan><tspan x="0" dy="1.29em">The board of</tspan><tspan x="0" dy="1.29em">education fires a</tspan><tspan x="0" dy="1.29em">teaching staff for</tspan><tspan x="0" dy="1.29em">insubordination.</tspan><tspan x="0" dy="1.29em">-5/1</tspan></text></g>
<g id="n3_5_3" class="E" transform="translate(374 1364)"><circle r="53" class="w"/><text><tspan x="0" dy="-3.47em">3.5.3:</tspan><tspan x="0" dy="1.29em">Administration</tspan><tspan x="0" dy="1.29em">responds by</tspan><tspan x="0" dy="1.29em">adding this to the</tspan><tspan x="0" dy="1.29em">evaluation</tspan><tspan x="0" dy="1.29em">instrument.</tspan><tspan x="0" dy="1.29em">0/7</tspan></text></g>
<g id="n3_5_2" class="B" transform="translate(480 1313)"><circle r="53" class="w"/><text><tspan x="0" dy="-1.535em">3.5.2:</tspan><tspan x="0" dy="1.29em">Teachers file a</tspan><tspan x="0" dy="1.29em">grievance.</tspan><tspan x="0" dy="1.29em">-1/4</tspan></text></g>
<g id="n3_5_4" class="B" transform="translate(525 1222)"><circle r="53" class="r"/><text><tspan x="0" dy="-1.535em">3.5.4: The</tspan><tspan x="0" dy="1.29em">initiative goes</tspan><tspan x="0" dy="1.29em">away.</tspan><tspan x="0" dy="1.29em">-4/5</tspan></text></g>
<g id="n3_5_1" class="B" transform="translate(664 1197)"><circle r="53" class="r"/><text><tspan x="0" dy="-1.535em">3.5.1:</tspan><tspan x="0" dy="1.29em">Building goals</tspan><tspan x="0" dy="1.29em">diminish.</tspan><tspan x="0" dy="1.29em">-4/5</tspan></text></g>
<g id="n3_5" class="C" transform="translate(773 1058)"><circle r="53" class="r"/><text><tspan x="0" dy="-1.535em">3.5: Teachers</tspan><tspan x="0" dy="1.29em">refuse to follow</tspan><tspan x="0" dy="1.29em">the mandate.</tspan><tspan x="0" dy="1.29em">-4/4</tspan></text></g>
<g id="n3_1" class="D" transform="translate(1251 1292)"><circle r="53" class="w"/><text><tspan x="0" dy="-2.825em">3.1:</tspan><tspan x="0" dy="1.29em">There will be a</tspan><tspan x="0" dy="1.29em">lack of interest</tspan><tspan x="0" dy="1.29em">and motivation</tspan><tspan x="0" dy="1.29em">from staff</tspan><tspan x="0" dy="1.29em">-3/6</tspan></text></g>
<g id="n3_2" class="E" transform="translate(1101 1248)"><circle r="53" class="r"/><text><tspan x="0" dy="-2.825em">3.2: Educators</tspan><tspan x="0" dy="1.29em">will not sincerely</tspan><tspan x="0" dy="1.29em">engage students in</tspan><tspan x="0" dy="1.29em">the development</tspan><tspan x="0" dy="1.29em">of their plans.</tspan><tspan x="0" dy="1.29em">-4/4</tspan></text></g>
<g id="n3_3" class="A" transform="translate(968 1191)"><circle r="53" class="w"/><text><tspan x="0" dy="-1.535em">3.3:</tspan><tspan x="0" dy="1.29em">This too</tspan><tspan x="0" dy="1.29em">shall pass.</tspan><tspan x="0" dy="1.29em">-3/7</tspan></text></g>
<g id="n3_4" class="D" transform="translate(857 1124)"><circle r="53" class="b"/><text><tspan x="0" dy="-2.18em">3.4: Students</tspan><tspan x="0" dy="1.29em">would become</tspan><tspan x="0" dy="1.29em">engaged despite</tspan><tspan x="0" dy="1.29em">staff attitude.</tspan><tspan x="0" dy="1.29em">+4/7</tspan></text></g>
<g id="n3" class="H" transform="translate(1069 1034)"><circle r="53" class="w"/><text><tspan x="0" dy="-3.47em">3: Educators take</tspan><tspan x="0" dy="1.29em">a 'this shall too come</tspan><tspan x="0" dy="1.29em">to pass' attitude toward</tspan><tspan x="0" dy="1.29em">the implementation of</tspan><tspan x="0" dy="1.29em">the mandated career</tspan><tspan x="0" dy="1.29em">plan requirement.</tspan><tspan x="0" dy="1.29em">-3/8</tspan></text></g>
<!-- branch 4 -->
<g id="n4_1_5" class="D" transform="translate(393 1115)"><circle r="53" class="b"/><text><tspan x="0" dy="-2.825em">4.1.5:</tspan><tspan x="0" dy="1.29em">for more funds</tspan><tspan x="0" dy="1.29em">for authentic</tspan><tspan x="0" dy="1.29em">learning</tspan><tspan x="0" dy="1.29em">opportunities.</tspan><tspan x="0" dy="1.29em">+4/8</tspan></text></g>
<g id="n4_1_4" class="D" transform="translate(215 1222)"><circle r="53" class="w"/><text><tspan x="0" dy="-2.825em">4.1.4:</tspan><tspan x="0" dy="1.29em">businesses</tspan><tspan x="0" dy="1.29em">will expect</tspan><tspan x="0" dy="1.29em">favors for their</tspan><tspan x="0" dy="1.29em">investment.</tspan><tspan x="0" dy="1.29em">0/5</tspan></text></g>
<g id="n4_1_3" class="D" transform="translate(328 1194)"><circle r="53" class="b"/><text><tspan x="0" dy="-2.825em">4.1.3:</tspan><tspan x="0" dy="1.29em">schools will be</tspan><tspan x="0" dy="1.29em">able to keep up</tspan><tspan x="0" dy="1.29em">with developing</tspan><tspan x="0" dy="1.29em">technologies.</tspan><tspan x="0" dy="1.29em">+5/6</tspan></text></g>
<g id="n4_1_2" class="D" transform="translate(532 1107)"><circle r="53" class="b"/><text><tspan x="0" dy="-2.18em">4.1.2:</tspan><tspan x="0" dy="1.29em">businesses</tspan><tspan x="0" dy="1.29em">will expect</tspan><tspan x="0" dy="1.29em">specific results.</tspan><tspan x="0" dy="1.29em">+4/9</tspan></text></g>
<g id="n4_2_3" class="E" transform="translate(115 1071)"><circle r="53" class="w"/><text><tspan x="0" dy="-2.825em">4.2.3:</tspan><tspan x="0" dy="1.29em">businesses</tspan><tspan x="0" dy="1.29em">play a greater</tspan><tspan x="0" dy="1.29em">volunteer presence</tspan><tspan x="0" dy="1.29em">in schools.</tspan><tspan x="0" dy="1.29em">0/5</tspan></text></g>
<g id="n4_2_2" class="D" transform="translate(230 1065)"><circle r="53" class="b"/><text><tspan x="0" dy="-2.825em">4.2.2:</tspan><tspan x="0" dy="1.29em">awareness</tspan><tspan x="0" dy="1.29em">among the</tspan><tspan x="0" dy="1.29em">stakeholders is</tspan><tspan x="0" dy="1.29em">raised.</tspan><tspan x="0" dy="1.29em">+4/8</tspan></text></g>
<g id="n4_2_4" class="E" transform="translate(312 1000)"><circle r="53" class="w"/><text><tspan x="0" dy="-2.18em">4.2.4: business</tspan><tspan x="0" dy="1.29em">representatives</tspan><tspan x="0" dy="1.29em">will provide teaching</tspan><tspan x="0" dy="1.29em">expertise.</tspan><tspan x="0" dy="1.29em">+3/6</tspan></text></g>
<g id="n4_2_5" class="D" transform="translate(513 941)"><circle r="53" class="w"/><text><tspan x="0" dy="-2.825em">4.2.5:</tspan><tspan x="0" dy="1.29em">teachers resist</tspan><tspan x="0" dy="1.29em">additional people</tspan><tspan x="0" dy="1.29em">around their</tspan><tspan x="0" dy="1.29em">classrooms.</tspan><tspan x="0" dy="1.29em">-2/8</tspan></text></g>
<g id="n4_2_1" class="D" transform="translate(444 1020)"><circle r="53" class="w"/><text><tspan x="0" dy="-2.825em">4.2.1:</tspan><tspan x="0" dy="1.29em">students have</tspan><tspan x="0" dy="1.29em">access to</tspan><tspan x="0" dy="1.29em">additional</tspan><tspan x="0" dy="1.29em">mentors.</tspan><tspan x="0" dy="1.29em">+2/6</tspan></text></g>
<g id="n4_1_6" class="F" transform="translate(576 1018)"><circle r="53" class="w"/><text><tspan x="0" dy="-2.825em">4.1.6: that a</tspan><tspan x="0" dy="1.29em">30% increase is</tspan><tspan x="0" dy="1.29em">insufficient to make</tspan><tspan x="0" dy="1.29em">significant</tspan><tspan x="0" dy="1.29em">difference.</tspan><tspan x="0" dy="1.29em">-3/7</tspan></text></g>
<g id="n4_3_3" class="D" transform="translate(75 801)"><circle r="53" class="w"/><text><tspan x="0" dy="-2.825em">4.3.3:</tspan><tspan x="0" dy="1.29em">businesses</tspan><tspan x="0" dy="1.29em">will become too</tspan><tspan x="0" dy="1.29em">involved in</tspan><tspan x="0" dy="1.29em">education.</tspan><tspan x="0" dy="1.29em">0/5</tspan></text></g>
<g id="n4_3_2" class="F" transform="translate(176 851)"><circle r="53" class="w"/><text><tspan x="0" dy="-3.47em">4.3.2:</tspan><tspan x="0" dy="1.29em">businesses will</tspan><tspan x="0" dy="1.29em">choose to support</tspan><tspan x="0" dy="1.29em">only those initiatives</tspan><tspan x="0" dy="1.29em">that serve their</tspan><tspan x="0" dy="1.29em">interests.</tspan><tspan x="0" dy="1.29em">-2/8</tspan></text></g>
<g id="n4_3_4" class="E" transform="translate(293 795)"><circle r="53" class="w"/><text><tspan x="0" dy="-2.18em">4.3.4: schools</tspan><tspan x="0" dy="1.29em">can imagine more</tspan><tspan x="0" dy="1.29em">initiatives knowing</tspan><tspan x="0" dy="1.29em">they have support.</tspan><tspan x="0" dy="1.29em">+3/6</tspan></text></g>
<g id="n4_3_1" class="D" transform="translate(392 905)"><circle r="53" class="b"/><text><tspan x="0" dy="-2.825em">4.3.1:</tspan><tspan x="0" dy="1.29em">new program</tspan><tspan x="0" dy="1.29em">opportunities</tspan><tspan x="0" dy="1.29em">become</tspan><tspan x="0" dy="1.29em">apparent.</tspan><tspan x="0" dy="1.29em">+4/7</tspan></text></g>
<g id="n4_3_5" class="E" transform="translate(510 808)"><circle r="53" class="w"/><text><tspan x="0" dy="-2.18em">4.3.5: student</tspan><tspan x="0" dy="1.29em">achievement will</tspan><tspan x="0" dy="1.29em">rise in non-business</tspan><tspan x="0" dy="1.29em">related areas.</tspan><tspan x="0" dy="1.29em">+3/6</tspan></text></g>
<g id="n4_5_3" class="F" transform="translate(259 474)"><circle r="53" class="w"/><text><tspan x="0" dy="-2.18em">4.5.3: the</tspan><tspan x="0" dy="1.29em">weaknesses of the</tspan><tspan x="0" dy="1.29em">existing curriculum</tspan><tspan x="0" dy="1.29em">become evident.</tspan><tspan x="0" dy="1.29em">+3/7</tspan></text></g>
<g id="n4_5_2" class="C" transform="translate(334 543)"><circle r="53" class="r"/><text><tspan x="0" dy="-2.18em">4.5.2:</tspan><tspan x="0" dy="1.29em">teachers will</tspan><tspan x="0" dy="1.29em">leave the</tspan><tspan x="0" dy="1.29em">school district.</tspan><tspan x="0" dy="1.29em">-5/6</tspan></text></g>
<g id="n4_5_4" class="D" transform="translate(460 566)"><circle r="53" class="r"/><text><tspan x="0" dy="-2.825em">4.5.4:</tspan><tspan x="0" dy="1.29em">students aren't</tspan><tspan x="0" dy="1.29em">prepared for</tspan><tspan x="0" dy="1.29em">post-secondary</tspan><tspan x="0" dy="1.29em">opportunities.</tspan><tspan x="0" dy="1.29em">-4/6</tspan></text></g>
<g id="n4_5_1" class="C" transform="translate(508 653)"><circle r="53" class="r"/><text><tspan x="0" dy="-2.18em">4.5.1:</tspan><tspan x="0" dy="1.29em">students will</tspan><tspan x="0" dy="1.29em">leave the</tspan><tspan x="0" dy="1.29em">school district.</tspan><tspan x="0" dy="1.29em">-5/6</tspan></text></g>
<g id="n4_5_5" class="D" transform="translate(658 666)"><circle r="53" class="r"/><text><tspan x="0" dy="-2.18em">4.5.5:</tspan><tspan x="0" dy="1.29em">families don't</tspan><tspan x="0" dy="1.29em">choose to live in</tspan><tspan x="0" dy="1.29em">the community.</tspan><tspan x="0" dy="1.29em">-5/6</tspan></text></g>
<g id="n4_4_3" class="D" transform="translate(144 615)"><circle r="53" class="r"/><text><tspan x="0" dy="-2.825em">4.4.3:</tspan><tspan x="0" dy="1.29em">teachers will</tspan><tspan x="0" dy="1.29em">block positive</tspan><tspan x="0" dy="1.29em">input from</tspan><tspan x="0" dy="1.29em">businesses.</tspan><tspan x="0" dy="1.29em">-4/6</tspan></text></g>
<g id="n4_4_2" class="C" transform="translate(234 669)"><circle r="53" class="r"/><text><tspan x="0" dy="-1.535em">4.4.2: that</tspan><tspan x="0" dy="1.29em">business will</tspan><tspan x="0" dy="1.29em">disengage.</tspan><tspan x="0" dy="1.29em">-4/6</tspan></text></g>
<g id="n4_4_4" class="D" transform="translate(359 666)"><circle r="53" class="b"/><text><tspan x="0" dy="-2.825em">4.4.4:</tspan><tspan x="0" dy="1.29em">that strong,</tspan><tspan x="0" dy="1.29em">innovative</tspan><tspan x="0" dy="1.29em">teachers will be</tspan><tspan x="0" dy="1.29em">evident.</tspan><tspan x="0" dy="1.29em">+5/7</tspan></text></g>
<g id="n4_4_1" class="D" transform="translate(428 744)"><circle r="53" class="r"/><text><tspan x="0" dy="-2.825em">4.4.1:</tspan><tspan x="0" dy="1.29em">educators will</tspan><tspan x="0" dy="1.29em">be able to justify</tspan><tspan x="0" dy="1.29em">maintaining the</tspan><tspan x="0" dy="1.29em">status quo.</tspan><tspan x="0" dy="1.29em">-4/6</tspan></text></g>
<g id="n4_4_5" class="E" transform="translate(570 730)"><circle r="53" class="b"/><text><tspan x="0" dy="-2.825em">4.4.5: teachers</tspan><tspan x="0" dy="1.29em">will have the</tspan><tspan x="0" dy="1.29em">opportunities to</tspan><tspan x="0" dy="1.29em">learn the business</tspan><tspan x="0" dy="1.29em">needs.</tspan><tspan x="0" dy="1.29em">+5/3</tspan></text></g>
<g id="n4_2" class="F" transform="translate(669 930)"><circle r="53" class="b"/><text><tspan x="0" dy="-2.825em">4.2: creates</tspan><tspan x="0" dy="1.29em">healthy, positive</tspan><tspan x="0" dy="1.29em">relationships between</tspan><tspan x="0" dy="1.29em">businesses and</tspan><tspan x="0" dy="1.29em">schools.</tspan><tspan x="0" dy="1.29em">+5/7</tspan></text></g>
<g id="n4_3" class="D" transform="translate(656 856)"><circle r="53" class="w"/><text><tspan x="0" dy="-2.18em">4.3: businesses</tspan><tspan x="0" dy="1.29em">will support</tspan><tspan x="0" dy="1.29em">other education</tspan><tspan x="0" dy="1.29em">initiatives.</tspan><tspan x="0" dy="1.29em">+3/6</tspan></text></g>
<g id="n4_4" class="D" transform="translate(679 795)"><circle r="53" class="w"/><text><tspan x="0" dy="-2.18em">4.4:</tspan><tspan x="0" dy="1.29em">educators will</tspan><tspan x="0" dy="1.29em">resent business</tspan><tspan x="0" dy="1.29em">interference.</tspan><tspan x="0" dy="1.29em">-3/8</tspan></text></g>
<g id="n4_5" class="D" transform="translate(720 735)"><circle r="53" class="r"/><text><tspan x="0" dy="-2.18em">4.5: schools</tspan><tspan x="0" dy="1.29em">aren't providing</tspan><tspan x="0" dy="1.29em">well-rounded</tspan><tspan x="0" dy="1.29em">education.</tspan><tspan x="0" dy="1.29em">-4/3</tspan></text></g>
<g id="n4_1" class="D" transform="translate(784 953)"><circle r="53" class="w"/><text><tspan x="0" dy="-2.18em">4.1: business</tspan><tspan x="0" dy="1.29em">financial support</tspan><tspan x="0" dy="1.29em">increases by</tspan><tspan x="0" dy="1.29em">30%.</tspan><tspan x="0" dy="1.29em">-2/3</tspan></text></g>
<g id="n4_1_1" class="C" transform="translate(730 1011)"><circle r="53" class="w"/><text><tspan x="0" dy="-2.18em">4.1.1:</tspan><tspan x="0" dy="1.29em">needed</tspan><tspan x="0" dy="1.29em">funding is</tspan><tspan x="0" dy="1.29em">created.</tspan><tspan x="0" dy="1.29em">+3/7</tspan></text></g>
<g id="n4" class="F" transform="translate(908 872)"><circle r="53" class="b"/><text><tspan x="0" dy="-3.47em">4: Area</tspan><tspan x="0" dy="1.29em">businesses are</tspan><tspan x="0" dy="1.29em">supportive of the</tspan><tspan x="0" dy="1.29em">'workforce</tspan><tspan x="0" dy="1.29em">development' focus</tspan><tspan x="0" dy="1.29em">by the schools.</tspan><tspan x="0" dy="1.29em">+4/7</tspan></text></g>
<!-- branch 5 -->
<g id="n5_1_4" class="C" transform="translate(429 341)"><circle r="53" class="b"/><text><tspan x="0" dy="-2.18em">5.1.4:</tspan><tspan x="0" dy="1.29em">increased</tspan><tspan x="0" dy="1.29em">parental</tspan><tspan x="0" dy="1.29em">support.</tspan><tspan x="0" dy="1.29em">+4/7</tspan></text></g>
<g id="n5_1_3" class="F" transform="translate(488 424)"><circle r="53" class="b"/><text><tspan x="0" dy="-2.825em">5.1.3: students</tspan><tspan x="0" dy="1.29em">become more</tspan><tspan x="0" dy="1.29em">authentically</tspan><tspan x="0" dy="1.29em">engaged in</tspan><tspan x="0" dy="1.29em">learning.</tspan><tspan x="0" dy="1.29em">+5/8</tspan></text></g>
<g id="n5_1_5" class="D" transform="translate(611 470)"><circle r="53" class="b"/><text><tspan x="0" dy="-2.18em">5.1.5:</tspan><tspan x="0" dy="1.29em">increased</tspan><tspan x="0" dy="1.29em">graduation rates</tspan><tspan x="0" dy="1.29em">to %100.</tspan><tspan x="0" dy="1.29em">+5/7</tspan></text></g>
<g id="n5_1_2" class="D" transform="translate(634 570)"><circle r="53" class="b"/><text><tspan x="0" dy="-2.18em">5.1.2: the</tspan><tspan x="0" dy="1.29em">dissatisfied</tspan><tspan x="0" dy="1.29em">teachers become</tspan><tspan x="0" dy="1.29em">more evident.</tspan><tspan x="0" dy="1.29em">+4/7</tspan></text></g>
<g id="n5_2_3" class="D" transform="translate(606 247)"><circle r="53" class="b"/><text><tspan x="0" dy="-2.825em">5.2.3:</tspan><tspan x="0" dy="1.29em">effective</tspan><tspan x="0" dy="1.29em">post-secondary</tspan><tspan x="0" dy="1.29em">preparation for</tspan><tspan x="0" dy="1.29em">students.</tspan><tspan x="0" dy="1.29em">+4/7</tspan></text></g>
<g id="n5_2_2" class="D" transform="translate(649 339)"><circle r="53" class="w"/><text><tspan x="0" dy="-1.535em">5.2.2: early</tspan><tspan x="0" dy="1.29em">graduation by</tspan><tspan x="0" dy="1.29em">some students.</tspan><tspan x="0" dy="1.29em">0/6</tspan></text></g>
<g id="n5_2_1" class="D" transform="translate(769 508)"><circle r="53" class="b"/><text><tspan x="0" dy="-2.18em">5.2.1:</tspan><tspan x="0" dy="1.29em">increased</tspan><tspan x="0" dy="1.29em">productivity</tspan><tspan x="0" dy="1.29em">from students.</tspan><tspan x="0" dy="1.29em">+4/7</tspan></text></g>
<g id="n5_2_4" class="C" transform="translate(765 401)"><circle r="53" class="w"/><text><tspan x="0" dy="-1.535em">5.2.4: that</tspan><tspan x="0" dy="1.29em">teaching</tspan><tspan x="0" dy="1.29em">improves.</tspan><tspan x="0" dy="1.29em">+3/6</tspan></text></g>
<g id="n5_1_1" class="D" transform="translate(788 705)"><circle r="53" class="b"/><text><tspan x="0" dy="-2.825em">5.1.1:</tspan><tspan x="0" dy="1.29em">teachers</tspan><tspan x="0" dy="1.29em">become</tspan><tspan x="0" dy="1.29em">re-energized</tspan><tspan x="0" dy="1.29em">teachers</tspan><tspan x="0" dy="1.29em">+5/8</tspan></text></g>
<g id="n5_1_6" class="B" transform="translate(787 595)"><circle r="53" class="w"/><text><tspan x="0" dy="-1.535em">5.1.6:</tspan><tspan x="0" dy="1.29em">increased</tspan><tspan x="0" dy="1.29em">need for</tspan><tspan x="0" dy="1.29em">funding.</tspan></text></g>
<g id="n5_2_5" class="D" transform="translate(917 563)"><circle r="53" class="w"/><text><tspan x="0" dy="-1.535em">5.2.5:</tspan><tspan x="0" dy="1.29em">too early</tspan><tspan x="0" dy="1.29em">graduation</tspan><tspan x="0" dy="1.29em">by children.</tspan></text></g>
<g id="n5_3_2" class="D" transform="translate(828 272)"><circle r="53" class="w"/><text><tspan x="0" dy="-2.18em">5.3.2: the</tspan><tspan x="0" dy="1.29em">community has</tspan><tspan x="0" dy="1.29em">the labor force it</tspan><tspan x="0" dy="1.29em">needs.</tspan><tspan x="0" dy="1.29em">0/5</tspan></text></g>
<g id="n5_3_3" class="A" transform="translate(802 172)"><circle r="53" class="r"/><text><tspan x="0" dy="-1.535em">5.3.3:</tspan><tspan x="0" dy="1.29em">loss of</tspan><tspan x="0" dy="1.29em">students.</tspan><tspan x="0" dy="1.29em">-4/7</tspan></text></g>
<g id="n5_3_4" class="B" transform="translate(934 349)"><circle r="53" class="r"/><text><tspan x="0" dy="-1.535em">5.3.4:</tspan><tspan x="0" dy="1.29em">teachers are</tspan><tspan x="0" dy="1.29em">disengaged.</tspan><tspan x="0" dy="1.29em">-5/8</tspan></text></g>
<g id="n5_3_1" class="A" transform="translate(918 459)"><circle r="53" class="w"/><text><tspan x="0" dy="-1.535em">5.3.1:</tspan><tspan x="0" dy="1.29em">stymied</tspan><tspan x="0" dy="1.29em">innovation.</tspan><tspan x="0" dy="1.29em">-3/7</tspan></text></g>
<g id="n5_3_5" class="A" transform="translate(1059 530)"><circle r="53" class="r"/><text><tspan x="0" dy="-1.535em">5.3.5:</tspan><tspan x="0" dy="1.29em">Angry</tspan><tspan x="0" dy="1.29em">parents.</tspan><tspan x="0" dy="1.29em">-4/7</tspan></text></g>
<g id="n5_6" class="F" transform="translate(1161 196)"><circle r="53" class="w"/><text><tspan x="0" dy="-2.825em">5.6: graduating</tspan><tspan x="0" dy="1.29em">students prepared</tspan><tspan x="0" dy="1.29em">to meet local</tspan><tspan x="0" dy="1.29em">economic</tspan><tspan x="0" dy="1.29em">development</tspan><tspan x="0" dy="1.29em">needs.</tspan></text></g>
<g id="n5_5" class="C" transform="translate(1113 310)"><circle r="53" class="w"/><text><tspan x="0" dy="-1.535em">5.5:</tspan><tspan x="0" dy="1.29em">increased</tspan><tspan x="0" dy="1.29em">parent support.</tspan><tspan x="0" dy="1.29em">+3/7</tspan></text></g>
<g id="n5_1" class="D" transform="translate(840 705)"><circle r="53" class="b"/><text><tspan x="0" dy="-2.18em">5.1: new</tspan><tspan x="0" dy="1.29em">innovative</tspan><tspan x="0" dy="1.29em">curriculums are</tspan><tspan x="0" dy="1.29em">created.</tspan><tspan x="0" dy="1.29em">+4/7</tspan></text></g>
<g id="n5_2" class="C" transform="translate(892 593)"><circle r="53" class="b"/><text><tspan x="0" dy="-1.535em">5.2: efficient</tspan><tspan x="0" dy="1.29em">student</tspan><tspan x="0" dy="1.29em">learning.</tspan><tspan x="0" dy="1.29em">+4/7</tspan></text></g>
<g id="n5_4" class="C" transform="translate(1079 422)"><circle r="66.5" class="hb"/><circle r="53" class="b"/><text><tspan x="0" dy="-2.18em">5.4:</tspan><tspan x="0" dy="1.29em">increased</tspan><tspan x="0" dy="1.29em">student</tspan><tspan x="0" dy="1.29em">motivation.</tspan><tspan x="0" dy="1.29em">+4/7</tspan></text></g>
<g id="n5_3" class="A" transform="translate(1011 529)"><circle r="53" class="w"/><text><tspan x="0" dy="-1.535em">5.3:</tspan><tspan x="0" dy="1.29em">"widget"</tspan><tspan x="0" dy="1.29em">production.</tspan><tspan x="0" dy="1.29em">-3/4</tspan></text></g>
<g id="n5" class="F" transform="translate(1118 704)"><circle r="53" class="b"/><text><tspan x="0" dy="-3.47em">5:</tspan><tspan x="0" dy="1.29em">Schools alter</tspan><tspan x="0" dy="1.29em">curriculum to match</tspan><tspan x="0" dy="1.29em">the individualized</tspan><tspan x="0" dy="1.29em">career plans of the</tspan><tspan x="0" dy="1.29em">students.</tspan><tspan x="0" dy="1.29em">+4/7</tspan></text></g>
<!-- branch 6 -->
<g id="n6_1_3" class="F" transform="translate(1284 73)"><circle r="53" class="w"/><text><tspan x="0" dy="-2.18em">6.1.3: Special</tspan><tspan x="0" dy="1.29em">education would</tspan><tspan x="0" dy="1.29em">require</tspan><tspan x="0" dy="1.29em">accommodations.</tspan><tspan x="0" dy="1.29em">0/9</tspan></text></g>
<g id="n6_1_2" class="E" transform="translate(1275 181)"><circle r="53" class="w"/><text><tspan x="0" dy="-2.825em">6.1.2:</tspan><tspan x="0" dy="1.29em">Teachers</tspan><tspan x="0" dy="1.29em">make extra money</tspan><tspan x="0" dy="1.29em">creating and selling</tspan><tspan x="0" dy="1.29em">assessments.</tspan><tspan x="0" dy="1.29em">+1/4</tspan></text></g>
<g id="n6_1_1" class="D" transform="translate(1294 392)"><circle r="53" class="w"/><text><tspan x="0" dy="-2.18em">6.1.1:</tspan><tspan x="0" dy="1.29em">Assessments</tspan><tspan x="0" dy="1.29em">are</tspan><tspan x="0" dy="1.29em">implemented.</tspan><tspan x="0" dy="1.29em">+3/7</tspan></text></g>
<g id="n6_1_4" class="F" transform="translate(1349 281)"><circle r="53" class="b"/><text><tspan x="0" dy="-3.47em">6.1.4:</tspan><tspan x="0" dy="1.29em">Assessments</tspan><tspan x="0" dy="1.29em">would be utilized</tspan><tspan x="0" dy="1.29em">to help students</tspan><tspan x="0" dy="1.29em">focus on career</tspan><tspan x="0" dy="1.29em">plans.</tspan><tspan x="0" dy="1.29em">+4/7</tspan></text></g>
<g id="n6_1_5" class="D" transform="translate(1404 490)"><circle r="53" class="w"/><text><tspan x="0" dy="-2.18em">6.1.5:</tspan><tspan x="0" dy="1.29em">Assessments</tspan><tspan x="0" dy="1.29em">would be</tspan><tspan x="0" dy="1.29em">ignored.</tspan><tspan x="0" dy="1.29em">0/7</tspan></text></g>
<g id="n6_2_3" class="C" transform="translate(1494 61)"><circle r="53" class="w"/><text><tspan x="0" dy="-1.535em">6.2.3: Hue</tspan><tspan x="0" dy="1.29em">and cry about</tspan><tspan x="0" dy="1.29em">lost "rigor"</tspan><tspan x="0" dy="1.29em">0/8</tspan></text></g>
<g id="n6_2_2" class="C" transform="translate(1472 168)"><circle r="53" class="w"/><text><tspan x="0" dy="-1.535em">6.2.2: More</tspan><tspan x="0" dy="1.29em">courses</tspan><tspan x="0" dy="1.29em">added.</tspan><tspan x="0" dy="1.29em">+3/7</tspan></text></g>
<g id="n6_2_4" class="C" transform="translate(1526 273)"><circle r="53" class="w"/><text><tspan x="0" dy="-1.535em">6.2.4: Would</tspan><tspan x="0" dy="1.29em">require more</tspan><tspan x="0" dy="1.29em">tech skills.</tspan><tspan x="0" dy="1.29em">+2/7</tspan></text></g>
<g id="n6_2_1" class="D" transform="translate(1459 381)"><circle r="53" class="w"/><text><tspan x="0" dy="-2.18em">6.2.1: Core</tspan><tspan x="0" dy="1.29em">curriculum</tspan><tspan x="0" dy="1.29em">teachers</tspan><tspan x="0" dy="1.29em">feel left out</tspan><tspan x="0" dy="1.29em">0/7</tspan></text></g>
<g id="n6_2_5" class="D" transform="translate(1551 487)"><circle r="53" class="b"/><text><tspan x="0" dy="-2.18em">6.2.5: Classes</tspan><tspan x="0" dy="1.29em">would focus on</tspan><tspan x="0" dy="1.29em">career oriented</tspan><tspan x="0" dy="1.29em">standards.</tspan><tspan x="0" dy="1.29em">+4/7</tspan></text></g>
<g id="n6_3_3" class="D" transform="translate(1695 64)"><circle r="53" class="w"/><text><tspan x="0" dy="-2.18em">6.3.3:</tspan><tspan x="0" dy="1.29em">Plan would</tspan><tspan x="0" dy="1.29em">be modified and</tspan><tspan x="0" dy="1.29em">resubmitted.</tspan><tspan x="0" dy="1.29em">0/9</tspan></text></g>
<g id="n6_3_2" class="D" transform="translate(1657 169)"><circle r="53" class="w"/><text><tspan x="0" dy="-2.825em">6.3.2:</tspan><tspan x="0" dy="1.29em">Discussion</tspan><tspan x="0" dy="1.29em">about refusing</tspan><tspan x="0" dy="1.29em">federal funds to</tspan><tspan x="0" dy="1.29em">avoid veto.</tspan><tspan x="0" dy="1.29em">0/5</tspan></text></g>
<g id="n6_3_1" class="A" transform="translate(1617 381)"><circle r="53" class="w"/><text><tspan x="0" dy="-1.535em">6.3.1:</tspan><tspan x="0" dy="1.29em">Fewer</tspan><tspan x="0" dy="1.29em">funds</tspan><tspan x="0" dy="1.29em">-1/5</tspan></text></g>
<g id="n6_3_4" class="C" transform="translate(1700 277)"><circle r="53" class="w"/><text><tspan x="0" dy="-2.18em">6.3.4:</tspan><tspan x="0" dy="1.29em">Districts</tspan><tspan x="0" dy="1.29em">would take their</tspan><tspan x="0" dy="1.29em">own initiative.</tspan><tspan x="0" dy="1.29em">+1/6</tspan></text></g>
<g id="n6_3_5" class="C" transform="translate(1697 490)"><circle r="53" class="w"/><text><tspan x="0" dy="-2.18em">6.3.5:</tspan><tspan x="0" dy="1.29em">New election</tspan><tspan x="0" dy="1.29em">would bring in</tspan><tspan x="0" dy="1.29em">new feds</tspan><tspan x="0" dy="1.29em">0/6</tspan></text></g>
<g id="n6_4_3" class="D" transform="translate(1908 83)"><circle r="53" class="w"/><text><tspan x="0" dy="-2.18em">6.4.3: Better</tspan><tspan x="0" dy="1.29em">scores on tests</tspan><tspan x="0" dy="1.29em">due to more</tspan><tspan x="0" dy="1.29em">prep time.</tspan><tspan x="0" dy="1.29em">0/5</tspan></text></g>
<g id="n6_4_2" class="B" transform="translate(1854 184)"><circle r="53" class="w"/><text><tspan x="0" dy="-1.535em">6.4.2: Loss</tspan><tspan x="0" dy="1.29em">of instructional</tspan><tspan x="0" dy="1.29em">time.</tspan><tspan x="0" dy="1.29em">0/6</tspan></text></g>
<g id="n6_4_1" class="A" transform="translate(1784 389)"><circle r="53" class="w"/><text><tspan x="0" dy="-1.535em">6.4.1:</tspan><tspan x="0" dy="1.29em">More time</tspan><tspan x="0" dy="1.29em">for testing.</tspan><tspan x="0" dy="1.29em">-1/5</tspan></text></g>
<g id="n6_4_4" class="B" transform="translate(1883 294)"><circle r="53" class="w"/><text><tspan x="0" dy="-1.535em">6.4.4:</tspan><tspan x="0" dy="1.29em">Extended</tspan><tspan x="0" dy="1.29em">school days.</tspan><tspan x="0" dy="1.29em">-1/5</tspan></text></g>
<g id="n6_4_5" class="B" transform="translate(1849 501)"><circle r="53" class="w"/><text><tspan x="0" dy="-1.535em">6.4.5:</tspan><tspan x="0" dy="1.29em">Extended</tspan><tspan x="0" dy="1.29em">school year.</tspan><tspan x="0" dy="1.29em">-1/6</tspan></text></g>
<g id="n6_5_3" class="C" transform="translate(2121 122)"><circle r="53" class="w"/><text><tspan x="0" dy="-2.18em">6.5.3:</tspan><tspan x="0" dy="1.29em">Loss of</tspan><tspan x="0" dy="1.29em">administrative</tspan><tspan x="0" dy="1.29em">time on task.</tspan><tspan x="0" dy="1.29em">0/7</tspan></text></g>
<g id="n6_5_2" class="D" transform="translate(2053 215)"><circle r="53" class="w"/><text><tspan x="0" dy="-2.825em">6.5.2:</tspan><tspan x="0" dy="1.29em">Districts</tspan><tspan x="0" dy="1.29em">would set KSDE</tspan><tspan x="0" dy="1.29em">mail to Spam</tspan><tspan x="0" dy="1.29em">folder.</tspan><tspan x="0" dy="1.29em">0/6</tspan></text></g>
<g id="n6_5_4" class="D" transform="translate(2065 324)"><circle r="53" class="w"/><text><tspan x="0" dy="-2.825em">6.5.4:</tspan><tspan x="0" dy="1.29em">Districts</tspan><tspan x="0" dy="1.29em">would complain</tspan><tspan x="0" dy="1.29em">about multiple</tspan><tspan x="0" dy="1.29em">e-mails.</tspan><tspan x="0" dy="1.29em">0/6</tspan></text></g>
<g id="n6_5_1" class="B" transform="translate(1951 409)"><circle r="53" class="w"/><text><tspan x="0" dy="-2.18em">6.5.1:</tspan><tspan x="0" dy="1.29em">Districts</tspan><tspan x="0" dy="1.29em">wont take info</tspan><tspan x="0" dy="1.29em">seriously.</tspan><tspan x="0" dy="1.29em">0/6</tspan></text></g>
<g id="n6_5_5" class="F" transform="translate(2000 524)"><circle r="53" class="w"/><text><tspan x="0" dy="-2.825em">6.5.5: How do</tspan><tspan x="0" dy="1.29em">implications wheel</tspan><tspan x="0" dy="1.29em">to address</tspan><tspan x="0" dy="1.29em">communication</tspan><tspan x="0" dy="1.29em">problem.</tspan><tspan x="0" dy="1.29em">0/1</tspan></text></g>
<g id="n6_1" class="B" transform="translate(1350 431)"><circle r="53" class="w"/><text><tspan x="0" dy="-1.535em">6.1:</tspan><tspan x="0" dy="1.29em">Assessment</tspan><tspan x="0" dy="1.29em">gets built.</tspan><tspan x="0" dy="1.29em">0/8</tspan></text></g>
<g id="n6_2" class="F" transform="translate(1507 416)"><circle r="53" class="b"/><text><tspan x="0" dy="-2.825em">6.2: Staff</tspan><tspan x="0" dy="1.29em">development</tspan><tspan x="0" dy="1.29em">would focus on</tspan><tspan x="0" dy="1.29em">career oriented</tspan><tspan x="0" dy="1.29em">standards.</tspan><tspan x="0" dy="1.29em">+4/7</tspan></text></g>
<g id="n6_3" class="C" transform="translate(1661 421)"><circle r="53" class="w"/><text><tspan x="0" dy="-1.535em">6.3: Feds</tspan><tspan x="0" dy="1.29em">would veto the</tspan><tspan x="0" dy="1.29em">plan.</tspan><tspan x="0" dy="1.29em">0/4</tspan></text></g>
<g id="n6_4" class="D" transform="translate(1819 442)"><circle r="53" class="w"/><text><tspan x="0" dy="-2.18em">6.4:</tspan><tspan x="0" dy="1.29em">Assessment</tspan><tspan x="0" dy="1.29em">windows added</tspan><tspan x="0" dy="1.29em">to the calendar.</tspan><tspan x="0" dy="1.29em">0/7</tspan></text></g>
<g id="n6_5" class="F" transform="translate(1971 483)"><circle r="53" class="w"/><text><tspan x="0" dy="-2.825em">6.5: KSDE staff</tspan><tspan x="0" dy="1.29em">would send</tspan><tspan x="0" dy="1.29em">multiple redundant</tspan><tspan x="0" dy="1.29em">e-mails informing of</tspan><tspan x="0" dy="1.29em">the mandate.</tspan><tspan x="0" dy="1.29em">0/8</tspan></text></g>
<g id="n6" class="H" transform="translate(1645 629)"><circle r="53" class="w"/><text><tspan x="0" dy="-4.115em">6: KSBE</tspan><tspan x="0" dy="1.29em">directs KSDE to</tspan><tspan x="0" dy="1.29em">submit a  new state</tspan><tspan x="0" dy="1.29em">assessment plan that</tspan><tspan x="0" dy="1.29em">reflects career cluster</tspan><tspan x="0" dy="1.29em">oriented standards to</tspan><tspan x="0" dy="1.29em">meet NCLB regs.</tspan><tspan x="0" dy="1.29em">0/8</tspan></text></g>
<!-- branch 7 -->
<g id="n7_1_2" class="D" transform="translate(2299 171)"><circle r="53" class="b"/><text><tspan x="0" dy="-2.825em">7.1.2:</tspan><tspan x="0" dy="1.29em">They provide</tspan><tspan x="0" dy="1.29em">a curriculum</tspan><tspan x="0" dy="1.29em">that students</tspan><tspan x="0" dy="1.29em">enjoy</tspan><tspan x="0" dy="1.29em">+4/5</tspan></text></g>
<g id="n7_1_1" class="D" transform="translate(2218 255)"><circle r="53" class="w"/><text><tspan x="0" dy="-2.18em">7.1.1: They</tspan><tspan x="0" dy="1.29em">find a need do</tspan><tspan x="0" dy="1.29em">redesign the</tspan><tspan x="0" dy="1.29em">school day</tspan><tspan x="0" dy="1.29em">+3/5</tspan></text></g>
<g id="n7_1" class="D" transform="translate(2127 444)"><circle r="53" class="b"/><text><tspan x="0" dy="-2.18em">7.1:</tspan><tspan x="0" dy="1.29em">They begin</tspan><tspan x="0" dy="1.29em">to redesign their</tspan><tspan x="0" dy="1.29em">curriculum</tspan><tspan x="0" dy="1.29em">+5/6</tspan></text></g>
<g id="n7_2" class="D" transform="translate(2265 377)"><circle r="53" class="b"/><text><tspan x="0" dy="-2.18em">7.2: They</tspan><tspan x="0" dy="1.29em">implement</tspan><tspan x="0" dy="1.29em">project based</tspan><tspan x="0" dy="1.29em">learning</tspan><tspan x="0" dy="1.29em">+5/5</tspan></text></g>
<g id="n7_3" class="F" transform="translate(2402 317)"><circle r="53" class="b"/><text><tspan x="0" dy="-2.825em">7.3: They invite</tspan><tspan x="0" dy="1.29em">outside experts to</tspan><tspan x="0" dy="1.29em">be a part of the</tspan><tspan x="0" dy="1.29em">educational</tspan><tspan x="0" dy="1.29em">process</tspan><tspan x="0" dy="1.29em">+5/6</tspan></text></g>
<g id="n7_5" class="B" transform="translate(2547 385)"><circle r="53" class="r"/><text><tspan x="0" dy="-2.18em">7.5:</tspan><tspan x="0" dy="1.29em">Curriculum</tspan><tspan x="0" dy="1.29em">is not readily</tspan><tspan x="0" dy="1.29em">available</tspan><tspan x="0" dy="1.29em">-5/9</tspan></text></g>
<g id="n7_4" class="G" transform="translate(2548 270)"><circle r="53" class="w"/><text><tspan x="0" dy="-4.115em">7.4:</tspan><tspan x="0" dy="1.29em">Schools feel</tspan><tspan x="0" dy="1.29em">frustrated because</tspan><tspan x="0" dy="1.29em">design of the system</tspan><tspan x="0" dy="1.29em">isn't conducive to the</tspan><tspan x="0" dy="1.29em">changes that need to</tspan><tspan x="0" dy="1.29em">be made</tspan><tspan x="0" dy="1.29em">+2/7</tspan></text></g>
<g id="n7" class="E" transform="translate(2138 652)"><circle r="53" class="b"/><text><tspan x="0" dy="-2.825em">7: Schools</tspan><tspan x="0" dy="1.29em">recognize a need</tspan><tspan x="0" dy="1.29em">for real-world</tspan><tspan x="0" dy="1.29em">relevance in</tspan><tspan x="0" dy="1.29em">curriculum.</tspan><tspan x="0" dy="1.29em">+5/7</tspan></text></g>
<!-- branch 8 -->
<g id="n8_1_3" class="C" transform="translate(2741 387)"><circle r="53" class="b"/><text><tspan x="0" dy="-2.18em">8.1.3:</tspan><tspan x="0" dy="1.29em">TEachers</tspan><tspan x="0" dy="1.29em">grow</tspan><tspan x="0" dy="1.29em">professionally.</tspan><tspan x="0" dy="1.29em">+4/8</tspan></text></g>
<g id="n8_1_2" class="F" transform="translate(2634 436)"><circle r="53" class="b"/><text><tspan x="0" dy="-2.825em">8.1.2:</tspan><tspan x="0" dy="1.29em">Teachers learn</tspan><tspan x="0" dy="1.29em">more effective</tspan><tspan x="0" dy="1.29em">instructional</tspan><tspan x="0" dy="1.29em">strategies.</tspan><tspan x="0" dy="1.29em">+5/7</tspan></text></g>
<g id="n8_1_4" class="C" transform="translate(2589 526)"><circle r="53" class="w"/><text><tspan x="0" dy="-2.18em">8.1.4:</tspan><tspan x="0" dy="1.29em">Teachers go</tspan><tspan x="0" dy="1.29em">up on salary</tspan><tspan x="0" dy="1.29em">schedule.</tspan><tspan x="0" dy="1.29em">+3/6</tspan></text></g>
<g id="n8_1_1" class="D" transform="translate(2448 559)"><circle r="53" class="w"/><text><tspan x="0" dy="-2.825em">8.1.1:</tspan><tspan x="0" dy="1.29em">More staff</tspan><tspan x="0" dy="1.29em">development</tspan><tspan x="0" dy="1.29em">days are</tspan><tspan x="0" dy="1.29em">needed.</tspan><tspan x="0" dy="1.29em">+3/6</tspan></text></g>
<g id="n8_1_5" class="B" transform="translate(2430 657)"><circle r="53" class="b"/><text><tspan x="0" dy="-1.535em">8.1.5:</tspan><tspan x="0" dy="1.29em">Improved</tspan><tspan x="0" dy="1.29em">school climate</tspan><tspan x="0" dy="1.29em">+4/6</tspan></text></g>
<g id="n8_2_4" class="C" transform="translate(2703 617)"><circle r="53" class="w"/><text><tspan x="0" dy="-2.18em">8.2.4:</tspan><tspan x="0" dy="1.29em">Less cost for</tspan><tspan x="0" dy="1.29em">professional</tspan><tspan x="0" dy="1.29em">development</tspan><tspan x="0" dy="1.29em">+2/6</tspan></text></g>
<g id="n8_2_1" class="B" transform="translate(2564 630)"><circle r="53" class="r"/><text><tspan x="0" dy="-1.535em">8.2.1: POor</tspan><tspan x="0" dy="1.29em">school</tspan><tspan x="0" dy="1.29em">climate</tspan><tspan x="0" dy="1.29em">-4/8</tspan></text></g>
<g id="n8_2_5" class="E" transform="translate(2522 719)"><circle r="53" class="w"/><text><tspan x="0" dy="-2.18em">8.2.5: Parents</tspan><tspan x="0" dy="1.29em">don't complain</tspan><tspan x="0" dy="1.29em">because kids are</tspan><tspan x="0" dy="1.29em">out of school.</tspan><tspan x="0" dy="1.29em">+3/7</tspan></text></g>
<g id="n8_2_2" class="B" transform="translate(2767 541)"><circle r="53" class="r"/><text><tspan x="0" dy="-2.18em">8.2.2:</tspan><tspan x="0" dy="1.29em">TEacher</tspan><tspan x="0" dy="1.29em">dissatisfaction</tspan><tspan x="0" dy="1.29em">grows.</tspan><tspan x="0" dy="1.29em">-4/8</tspan></text></g>
<g id="n8_2_3" class="D" transform="translate(2880 510)"><circle r="53" class="r"/><text><tspan x="0" dy="-2.825em">8.2.3:</tspan><tspan x="0" dy="1.29em">TEacher</tspan><tspan x="0" dy="1.29em">effectiveness</tspan><tspan x="0" dy="1.29em">does not</tspan><tspan x="0" dy="1.29em">improve</tspan><tspan x="0" dy="1.29em">-4/8</tspan></text></g>
<g id="n8_1" class="D" transform="translate(2336 687)"><circle r="53" class="b"/><text><tspan x="0" dy="-2.18em">8.1:</tspan><tspan x="0" dy="1.29em">TEachers</tspan><tspan x="0" dy="1.29em">receive effective</tspan><tspan x="0" dy="1.29em">training.</tspan><tspan x="0" dy="1.29em">+5/7</tspan></text></g>
<g id="n8_2" class="B" transform="translate(2396 750)"><circle r="53" class="r"/><text><tspan x="0" dy="-1.535em">8.2: Schools</tspan><tspan x="0" dy="1.29em">don't provide</tspan><tspan x="0" dy="1.29em">training</tspan><tspan x="0" dy="1.29em">-4/3</tspan></text></g>
<g id="n8_3" class="B" transform="translate(2755 680)"><circle r="53" class="r"/><text><tspan x="0" dy="-2.18em">8.3:</tspan><tspan x="0" dy="1.29em">Continuing</tspan><tspan x="0" dy="1.29em">Education</tspan><tspan x="0" dy="1.29em">costs go up</tspan><tspan x="0" dy="1.29em">-4/8</tspan></text></g>
<g id="n8_4" class="D" transform="translate(2890 708)"><circle r="53" class="r"/><text><tspan x="0" dy="-2.18em">8.4: Teachers</tspan><tspan x="0" dy="1.29em">receive</tspan><tspan x="0" dy="1.29em">ineffective</tspan><tspan x="0" dy="1.29em">training.</tspan><tspan x="0" dy="1.29em">-4/5</tspan></text></g>
<g id="n8_5" class="F" transform="translate(3022 764)"><circle r="53" class="w"/><text><tspan x="0" dy="-2.825em">8.5: STrains</tspan><tspan x="0" dy="1.29em">relations with</tspan><tspan x="0" dy="1.29em">administration and</tspan><tspan x="0" dy="1.29em">Board of</tspan><tspan x="0" dy="1.29em">Education</tspan><tspan x="0" dy="1.29em">-3/6</tspan></text></g>
<g id="n8" class="H" transform="translate(2257 843)"><circle r="53" class="w"/><text><tspan x="0" dy="-3.47em">8: Teachers</tspan><tspan x="0" dy="1.29em">demand training on</tspan><tspan x="0" dy="1.29em">how to teach with</tspan><tspan x="0" dy="1.29em">numerous Individual</tspan><tspan x="0" dy="1.29em">Career Plans in a</tspan><tspan x="0" dy="1.29em">single classroom.</tspan><tspan x="0" dy="1.29em">+3/8</tspan></text></g>
<g id="center" transform="translate(1553 870)" style="font-size:26px"><circle r="135" class="w"/><text><tspan x="0" dy="-4.115em">What</tspan><tspan x="0" dy="1.29em">are the possible</tspan><tspan x="0" dy="1.29em">implications of a</tspan><tspan x="0" dy="1.29em">mandated Individual</tspan><tspan x="0" dy="1.29em">Career Plan of Study</tspan><tspan x="0" dy="1.29em">for all students in 8th</tspan><tspan x="0" dy="1.29em">grade and</tspan><tspan x="0" dy="1.29em">above?</tspan></text></g>
</g>
<text id="m1" x="1866" y="1604" textLength="84" lengthAdjust="spacingAndGlyphs" style="font-size:74px;fill:#bbb;mix-blend-mode:multiply">M1</text>
<g id="logo">
<text x="114" y="1597" style="font-size:17px;letter-spacing:2.6px">Joel Barker's</text>
<text x="184" y="1624" style="font-size:7px">TM</text>
<defs><g id="br"><path stroke-width="1" d="M0-10V-20M0-29V-37"/><path stroke-width="2.6" d="M0-37-6-50M0-37 6-50M0-37V-52M-6-50-12-62M6-50 12-62"/><circle cy="-24" r="5.5"/><circle cy="-42" r="5.5"/><circle cx="-7" cy="-52" r="5.5"/><circle cx="7" cy="-52" r="5.5"/><circle cx="-13" cy="-68" r="5.5"/><circle cx="-1" cy="-72" r="5.5"/><circle cx="11" cy="-66" r="5.5"/></g></defs>
<g transform="translate(113 1686)"><use href="#br"/><use href="#br" transform="rotate(45)"/><use href="#br" transform="rotate(90)"/><use href="#br" transform="rotate(135)"/><use href="#br" transform="rotate(180)"/><use href="#br" transform="rotate(225)"/><use href="#br" transform="rotate(270)"/><use href="#br" transform="rotate(315)"/><circle class="lc" r="10.5"/></g>
</g>
<g id="copyright">
<text class="cr" x="3077" y="1681">Implications Wheel® programs, graphics, and printed material are</text>
<text class="cr" x="3077" y="1698">copyright © 2004-2008 Joel A. Barker. All rights reserved. Pat. Pend.</text>
<text class="cr" x="3077" y="1715">The information entered by or for Mike Cook, ESSDACK is copyright ©</text>
<text class="cr" x="3077" y="1732">2008 Mike Cook, ESSDACK. All Rights Reserved.</text>
</g>
</svg>
